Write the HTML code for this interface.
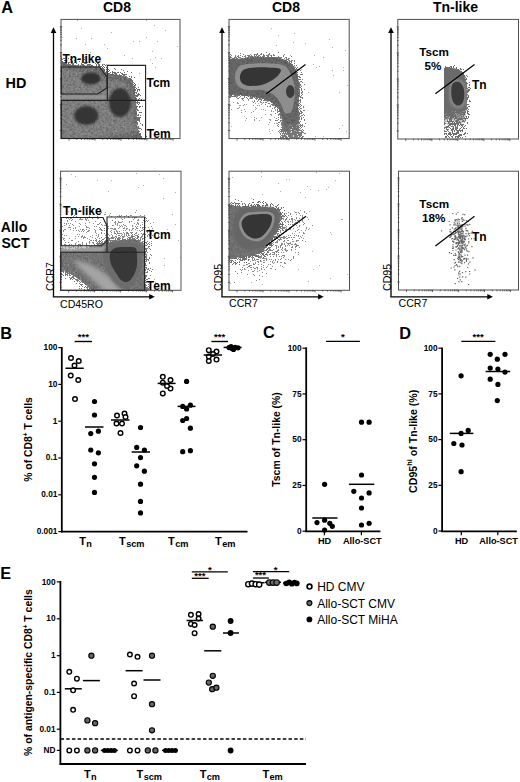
<!DOCTYPE html>
<html><head><meta charset="utf-8"><style>
html,body{margin:0;padding:0;background:#fff;width:520px;height:782px;overflow:hidden}
svg{display:block}
text{font-family:"Liberation Sans", sans-serif;fill:#000}
</style></head><body>
<svg width="520" height="782" viewBox="0 0 520 782">
<defs><filter id="g1" x="-40%" y="-40%" width="180%" height="180%" color-interpolation-filters="sRGB">
<feGaussianBlur in="SourceAlpha" stdDeviation="0.8" result="b"/>
<feTurbulence type="fractalNoise" baseFrequency="0.95" numOctaves="1" seed="7" result="n"/>
<feColorMatrix in="n" type="matrix" values="0 0 0 0 0 0 0 0 0 0 0 0 0 0 0 1 0 0 0 0" result="na"/>
<feComposite in="b" in2="na" operator="arithmetic" k1="0" k2="3" k3="2.2" k4="-2.3" result="m"/>
<feFlood flood-color="#767676"/>
<feComposite in2="m" operator="in"/>
</filter>
<filter id="g2" x="-40%" y="-40%" width="180%" height="180%" color-interpolation-filters="sRGB">
<feGaussianBlur in="SourceAlpha" stdDeviation="0.8" result="b"/>
<feTurbulence type="fractalNoise" baseFrequency="0.95" numOctaves="1" seed="17" result="n"/>
<feColorMatrix in="n" type="matrix" values="0 0 0 0 0 0 0 0 0 0 0 0 0 0 0 1 0 0 0 0" result="na"/>
<feComposite in="b" in2="na" operator="arithmetic" k1="0" k2="3" k3="2.2" k4="-2.3" result="m"/>
<feFlood flood-color="#6a6a6a"/>
<feComposite in2="m" operator="in"/>
</filter>
<filter id="mott" x="0" y="0" width="100%" height="100%" color-interpolation-filters="sRGB">
<feTurbulence type="fractalNoise" baseFrequency="0.45" numOctaves="2" seed="21" result="n"/>
<feColorMatrix in="n" type="matrix" values="0 0 0 0 0 0 0 0 0 0 0 0 0 0 0 3.2 0 0 0 -1.35" result="na"/>
<feFlood flood-color="#3a3a3a"/>
<feComposite in2="na" operator="in" result="dk"/>
<feComposite in="dk" in2="SourceAlpha" operator="in"/>
</filter>
<filter id="mottl" x="0" y="0" width="100%" height="100%" color-interpolation-filters="sRGB">
<feTurbulence type="fractalNoise" baseFrequency="0.5" numOctaves="2" seed="33" result="n"/>
<feColorMatrix in="n" type="matrix" values="0 0 0 0 0 0 0 0 0 0 0 0 0 0 0 3.2 0 0 0 -1.5" result="na"/>
<feFlood flood-color="#b0b0b0"/>
<feComposite in2="na" operator="in" result="dk"/>
<feComposite in="dk" in2="SourceAlpha" operator="in"/>
</filter>
<filter id="b05" x="-50%" y="-50%" width="200%" height="200%"><feGaussianBlur stdDeviation="0.5"/></filter>
<filter id="b04" x="-50%" y="-50%" width="200%" height="200%"><feGaussianBlur stdDeviation="0.4"/></filter>
<filter id="b1" x="-50%" y="-50%" width="200%" height="200%"><feGaussianBlur stdDeviation="1.0"/></filter>
<filter id="b2" x="-50%" y="-50%" width="200%" height="200%"><feGaussianBlur stdDeviation="2.0"/></filter>
<filter id="b3" x="-50%" y="-50%" width="200%" height="200%"><feGaussianBlur stdDeviation="3.0"/></filter><linearGradient id="gr2" gradientUnits="userSpaceOnUse" x1="0" y1="115" x2="0" y2="140"><stop offset="0" stop-color="#000"/><stop offset="1" stop-color="#000" stop-opacity="0.3"/></linearGradient><linearGradient id="gr3" gradientUnits="userSpaceOnUse" x1="0" y1="104" x2="0" y2="132"><stop offset="0" stop-color="#000"/><stop offset="1" stop-color="#000" stop-opacity="0.25"/></linearGradient><clipPath id="c1"><rect x="61" y="19" width="119.5" height="119.5"/></clipPath>
<clipPath id="c2"><rect x="229" y="19" width="121" height="119.5"/></clipPath>
<clipPath id="c3"><rect x="397.5" y="19" width="121" height="120"/></clipPath>
<clipPath id="c3b"><rect x="444" y="19" width="74" height="119.3"/></clipPath>
<clipPath id="c4"><rect x="60.5" y="170.8" width="120.5" height="120"/></clipPath>
<clipPath id="c5"><rect x="229" y="170.8" width="121" height="120"/></clipPath>
<clipPath id="c6"><rect x="398.5" y="170.8" width="120" height="120"/></clipPath></defs>
<text x="1.2" y="13.3" font-size="16.3" font-weight="bold" text-anchor="start" >A</text>
<text x="117" y="11.6" font-size="14" font-weight="bold" text-anchor="middle" >CD8</text>
<text x="286" y="12.2" font-size="14" font-weight="bold" text-anchor="middle" >CD8</text>
<text x="455.5" y="12" font-size="14" font-weight="bold" text-anchor="middle" >Tn-like</text>
<text x="5.6" y="87.8" font-size="14.4" font-weight="bold" text-anchor="start" >HD</text>
<text x="0.8" y="232" font-size="14" font-weight="bold" text-anchor="start" >Allo</text>
<text x="1.5" y="248" font-size="14" font-weight="bold" text-anchor="start" >SCT</text>
<g clip-path="url(#c1)">
<path d="M77 20h1M146 20h1M154 25h1M81 28h1M165 30h1M111 32h1M62 37h1M146 37h1M76 38h1M91 38h1M133 41h1M139 41h1M157 41h1M85 44h1M104 44h1M177 46h1M107 48h1M152 51h1M90 52h1M124 55h1M82 56h1M84 57h1M155 57h1M132 58h1M161 58h1M150 59h1M152 63h1M103 64h1M106 64h1M155 67h1M68 71h1M139 73h1M83 75h1" stroke="#b0b0b0" stroke-width="1" fill="none" transform="translate(0 0.5)" filter="url(#b04)"/>
<path d="M61 57h1M61 58h1M63 58h1M64 58h1M68 58h1M71 58h1M61 59h1M62 59h1M70 59h1M77 59h1M84 59h1M64 60h1M65 60h1M74 60h1M61 61h1M62 61h1M66 61h1M72 61h1M79 61h1M64 62h1M65 62h1M68 62h1M69 62h1M72 62h1M74 62h1M84 62h1M85 62h1M87 62h1M66 63h1M68 63h1M71 63h1M72 63h1M73 63h1M76 63h1M81 63h1M84 63h1M85 63h1M86 63h1M95 63h1M97 63h1M98 63h1M69 64h1M70 64h1M72 64h1M73 64h1M78 64h1M81 64h1M82 64h1M83 64h1M87 64h1M88 64h1M89 64h1M90 64h1M96 64h1M98 64h1M99 64h1M102 64h1M104 64h1M71 65h1M72 65h1M73 65h1M74 65h1M75 65h1M77 65h1M78 65h1M80 65h1M82 65h1M83 65h1M84 65h1M87 65h1M89 65h1M91 65h1M92 65h1M96 65h1M98 65h1M99 65h1M102 65h1M105 65h1M92 66h1M93 66h1M95 66h1M96 66h1M98 66h1M99 66h1M100 66h1M101 66h1M103 66h1M98 67h1M99 67h1M100 67h1M102 67h1M104 67h1M106 67h1M100 68h1M101 68h1M102 68h1M103 68h1M107 68h1M114 68h1M101 69h1M102 69h1M103 69h1M104 69h1M106 69h1M108 69h1M115 69h1M121 69h1M104 70h1M109 70h1M123 70h1M104 71h1M106 71h1M108 71h1M112 71h1M127 71h1M105 72h1M106 72h1M110 72h1M112 72h1M113 72h1M114 72h1M115 72h1M117 72h1M118 72h1M120 72h1M124 72h1M131 72h1M106 73h1M107 73h1M108 73h1M109 73h1M112 73h1M114 73h1M115 73h1M116 73h1M121 73h1M122 73h1M110 74h1M111 74h1M112 74h1M113 74h1M115 74h1M116 74h1M119 74h1M122 74h1M123 74h1M124 74h1M125 74h1M126 74h1M116 75h1M117 75h1M118 75h1M120 75h1M121 75h1M123 75h1M124 75h1M125 76h1M126 76h1M129 76h1M131 76h1M131 77h1M134 77h1M129 78h1M130 78h1M129 79h1M130 79h1M131 79h1M130 80h1M131 80h1M132 80h1M132 81h1M132 82h1M133 82h1M134 83h1M133 84h1M135 84h1M134 85h1M135 85h1M133 86h1M134 86h1M134 87h1M135 87h1M138 87h1M134 88h1M136 88h1M134 89h1M135 89h1M137 89h1M138 89h1M139 89h1M134 90h1M135 90h1M137 90h1M139 90h1M137 91h1M135 92h1M136 92h1M136 93h1M138 93h1M137 94h1M138 94h1M139 94h1M135 95h1M136 95h1M137 95h1M138 95h1M140 95h1M136 96h1M137 96h1M135 97h1M135 98h1M136 98h1M139 98h1M135 99h1M136 99h1M138 99h1M141 99h1M135 100h1M136 100h1M138 100h1M135 101h1M137 101h1M135 102h1M136 102h1M137 102h1M138 102h1M139 102h1M137 103h1M139 103h1M138 104h1M136 106h1M137 106h1M139 106h1M140 106h1M142 106h1M136 107h1M139 107h1M136 108h1M136 109h1M137 109h1M137 110h1M138 110h1M136 111h1M136 112h1M139 112h1M140 112h1M141 112h1M136 113h1M136 114h1M138 114h1M137 115h1M138 115h1M140 115h1M136 116h1M137 117h1M138 117h1M139 117h1M140 117h1M136 118h1M137 118h1M138 118h1M139 118h1M136 119h1M137 119h1M138 119h1M139 119h1M137 120h1M138 120h1M139 120h1M139 121h1M137 122h1M137 123h1M140 123h1M137 124h1M142 124h1M142 125h1M138 126h1M137 127h1M138 127h1M137 128h1M138 128h1M139 128h1M140 128h1M137 129h1M141 129h1M138 130h1M137 131h1M138 131h1M139 131h1M137 132h1M138 132h1M138 133h1M139 133h1M140 133h1M138 134h1M139 134h1M140 134h1M139 135h1M140 135h1M140 136h1M141 136h1M145 136h1M146 136h1M141 137h1M145 137h1" stroke="#6c6c6c" stroke-width="1" fill="none" transform="translate(0 0.5)" filter="url(#b04)"/>
<path d="M50.0 66.5C54.2 52.4 67.5 65.6 75.0 65.5C82.5 65.4 90.5 65.4 95.0 66.0C99.5 66.6 100.0 67.8 102.0 69.0C104.0 70.2 105.0 72.1 107.0 73.0C109.0 73.9 111.2 74.0 114.0 74.5C116.8 75.0 121.2 75.1 124.0 76.0C126.8 76.9 129.2 78.0 131.0 80.0C132.8 82.0 133.7 84.7 134.5 88.0C135.3 91.3 135.6 95.5 136.0 100.0C136.4 104.5 136.8 110.0 137.0 115.0C137.2 120.0 137.3 124.2 137.5 130.0C137.7 135.8 152.6 146.7 138.0 150.0C123.4 153.3 64.7 163.9 50.0 150.0C35.3 136.1 45.8 80.6 50.0 66.5Z" fill="#000" filter="url(#g2)" />
<path d="M50.0 71.0C54.2 60.3 67.8 70.1 75.0 70.0C82.2 69.9 88.8 69.8 93.0 70.5C97.2 71.2 98.2 72.6 100.0 74.0C101.8 75.4 102.0 78.0 104.0 79.0C106.0 80.0 109.0 79.7 112.0 80.0C115.0 80.3 119.3 80.2 122.0 81.0C124.7 81.8 126.5 83.0 128.0 85.0C129.5 87.0 130.2 89.5 131.0 93.0C131.8 96.5 132.2 101.5 132.5 106.0C132.8 110.5 133.1 115.5 133.0 120.0C132.9 124.5 145.8 130.7 132.0 133.0C118.2 135.3 63.7 144.3 50.0 134.0C36.3 123.7 45.8 81.7 50.0 71.0Z" fill="#8a8a8a" filter="url(#b2)" opacity="0.8"/>
<path d="M50.0 66.5C54.2 52.4 67.5 65.6 75.0 65.5C82.5 65.4 90.5 65.4 95.0 66.0C99.5 66.6 100.0 67.8 102.0 69.0C104.0 70.2 105.0 72.1 107.0 73.0C109.0 73.9 111.2 74.0 114.0 74.5C116.8 75.0 121.2 75.1 124.0 76.0C126.8 76.9 129.2 78.0 131.0 80.0C132.8 82.0 133.7 84.7 134.5 88.0C135.3 91.3 135.6 95.5 136.0 100.0C136.4 104.5 136.8 110.0 137.0 115.0C137.2 120.0 137.3 124.2 137.5 130.0C137.7 135.8 152.6 146.7 138.0 150.0C123.4 153.3 64.7 163.9 50.0 150.0C35.3 136.1 45.8 80.6 50.0 66.5Z" fill="#000" filter="url(#mott)" opacity="0.4"/>
<path d="M50.0 66.5C54.2 52.4 67.5 65.6 75.0 65.5C82.5 65.4 90.5 65.4 95.0 66.0C99.5 66.6 100.0 67.8 102.0 69.0C104.0 70.2 105.0 72.1 107.0 73.0C109.0 73.9 111.2 74.0 114.0 74.5C116.8 75.0 121.2 75.1 124.0 76.0C126.8 76.9 129.2 78.0 131.0 80.0C132.8 82.0 133.7 84.7 134.5 88.0C135.3 91.3 135.6 95.5 136.0 100.0C136.4 104.5 136.8 110.0 137.0 115.0C137.2 120.0 137.3 124.2 137.5 130.0C137.7 135.8 152.6 146.7 138.0 150.0C123.4 153.3 64.7 163.9 50.0 150.0C35.3 136.1 45.8 80.6 50.0 66.5Z" fill="#000" filter="url(#mottl)" opacity="0.35"/>
<rect x="56" y="95" width="51" height="4.5" fill="#999" filter="url(#b1)" opacity="0.8"/>
<ellipse cx="90.8" cy="78.4" rx="9.8" ry="6.2" fill="#333" filter="url(#b1)" />
<ellipse cx="120" cy="102.5" rx="11" ry="14.5" fill="#363636" filter="url(#b1)" />
<ellipse cx="86.3" cy="115.5" rx="12" ry="9.5" fill="#343434" filter="url(#b1)" />
</g>
<g clip-path="url(#c2)">
<path d="M271 28h1M294 33h1M278 35h1M329 39h1M293 42h1M305 43h1M276 45h1M332 47h1M345 50h1M290 55h1M314 55h1M234 57h1M281 57h1M323 57h1M266 58h1M266 64h1M313 64h1M264 66h1M319 66h1M316 67h1M343 67h1M301 69h1M332 70h1M343 70h1M263 71h1M268 72h1M333 75h1M273 80h1M349 80h1M251 81h1M261 84h1M347 85h1M233 89h1M280 92h1M308 92h1M339 92h1M277 98h1M272 99h1M229 101h1M258 103h1M271 114h1M244 116h1M245 120h1M342 125h1M231 126h1M339 128h1M269 129h1M272 130h1M269 131h1M346 131h1M295 132h1M270 133h1M282 134h1M295 135h1M315 136h1M323 136h1" stroke="#b0b0b0" stroke-width="1" fill="none" transform="translate(0 0.5)" filter="url(#b04)"/>
<path d="M236 94h1M236 96h1M239 97h1M241 98h1M249 98h1M248 100h1M254 100h1M258 100h1M252 101h1M233 102h1M237 102h1M260 102h1M237 103h1M238 103h1M255 103h1M262 103h1M244 104h1M246 104h1M261 104h1M230 105h1M239 105h1M240 105h1M243 105h1M253 105h1M257 105h1M259 105h1M270 105h1M269 106h1M239 107h1M255 107h1M237 108h1M238 108h1M256 108h1M274 108h1M231 109h1M244 109h1M255 109h1M261 109h1M263 109h1M275 109h1M241 110h1M265 110h1M271 110h1M275 110h1M245 111h1M253 111h1M271 111h1M273 111h1M277 111h1M241 112h1M251 112h1M265 114h1M270 114h1M279 114h1M271 115h1M254 117h1M261 117h1M274 117h1M246 118h1M256 118h1M283 118h1M254 119h1M269 119h1M270 119h1M254 120h1M259 120h1M270 120h1M276 120h1M280 121h1M269 122h1M274 123h1M276 123h1M277 123h1M268 124h1M281 125h1M281 132h1" stroke="#999" stroke-width="1" fill="none" transform="translate(0 0.5)" filter="url(#b04)"/>
<path d="M266 52h1M278 52h1M240 53h1M257 53h1M261 53h1M269 53h1M230 54h1M243 54h1M250 54h1M254 54h1M255 54h1M256 54h1M257 54h1M260 54h1M261 54h1M263 54h1M268 54h1M269 54h1M273 54h1M284 54h1M231 55h1M235 55h1M238 55h1M240 55h1M245 55h1M247 55h1M248 55h1M249 55h1M251 55h1M254 55h1M256 55h1M258 55h1M259 55h1M263 55h1M264 55h1M266 55h1M267 55h1M268 55h1M270 55h1M271 55h1M273 55h1M274 55h1M283 55h1M230 56h1M235 56h1M237 56h1M238 56h1M242 56h1M244 56h1M245 56h1M248 56h1M249 56h1M250 56h1M251 56h1M252 56h1M254 56h1M255 56h1M257 56h1M258 56h1M260 56h1M262 56h1M263 56h1M264 56h1M267 56h1M268 56h1M271 56h1M278 56h1M283 56h1M291 56h1M229 57h1M230 57h1M231 57h1M234 57h1M235 57h1M236 57h1M238 57h1M239 57h1M240 57h1M245 57h1M247 57h1M248 57h1M250 57h1M251 57h1M265 57h1M266 57h1M267 57h1M268 57h1M269 57h1M270 57h1M271 57h1M272 57h1M273 57h1M274 57h1M275 57h1M276 57h1M277 57h1M278 57h1M279 57h1M280 57h1M281 57h1M285 57h1M286 57h1M229 58h1M232 58h1M233 58h1M234 58h1M236 58h1M237 58h1M241 58h1M242 58h1M244 58h1M278 58h1M279 58h1M280 58h1M284 58h1M286 58h1M288 58h1M289 58h1M286 59h1M287 59h1M288 59h1M285 60h1M286 60h1M288 60h1M289 60h1M291 60h1M292 60h1M294 60h1M287 61h1M289 61h1M290 61h1M291 61h1M294 61h1M289 62h1M291 62h1M290 63h1M294 63h1M291 64h1M292 64h1M294 65h1M296 65h1M293 66h1M295 67h1M297 67h1M296 68h1M295 69h1M296 69h1M297 69h1M295 70h1M300 70h1M297 72h1M301 72h1M296 73h1M297 74h1M300 74h1M301 74h1M302 74h1M297 75h1M297 76h1M298 76h1M299 76h1M299 77h1M300 77h1M298 79h1M299 79h1M300 79h1M302 79h1M300 81h1M301 81h1M298 82h1M299 82h1M302 82h1M299 83h1M299 84h1M300 84h1M304 84h1M299 85h1M300 85h1M299 86h1M301 86h1M299 87h1M300 87h1M301 88h1M299 89h1M301 89h1M304 89h1M299 90h1M301 90h1M299 91h1M302 91h1M299 92h1M301 92h1M302 92h1M299 93h1M301 93h1M234 94h1M235 94h1M236 94h1M237 94h1M238 94h1M239 94h1M299 94h1M302 94h1M230 95h1M231 95h1M234 95h1M235 95h1M236 95h1M237 95h1M238 95h1M239 95h1M241 95h1M242 95h1M243 95h1M244 95h1M245 95h1M246 95h1M247 95h1M299 95h1M301 95h1M230 96h1M231 96h1M232 96h1M233 96h1M234 96h1M235 96h1M237 96h1M240 96h1M244 96h1M248 96h1M252 96h1M253 96h1M298 96h1M299 96h1M300 96h1M229 97h1M230 97h1M236 97h1M244 97h1M246 97h1M250 97h1M251 97h1M252 97h1M254 97h1M256 97h1M257 97h1M258 97h1M298 97h1M300 97h1M301 97h1M302 97h1M237 98h1M238 98h1M242 98h1M243 98h1M247 98h1M250 98h1M251 98h1M252 98h1M255 98h1M256 98h1M257 98h1M259 98h1M260 98h1M262 98h1M302 98h1M242 99h1M248 99h1M256 99h1M258 99h1M259 99h1M260 99h1M261 99h1M264 99h1M266 99h1M300 99h1M243 100h1M261 100h1M263 100h1M264 100h1M265 100h1M266 100h1M267 100h1M268 100h1M298 100h1M299 100h1M300 100h1M254 101h1M257 101h1M260 101h1M267 101h1M298 101h1M300 101h1M253 102h1M261 102h1M263 102h1M265 102h1M266 102h1M271 102h1M272 102h1M300 102h1M268 103h1M269 103h1M273 103h1M299 103h1M265 104h1M271 104h1M272 104h1M273 104h1M274 104h1M298 104h1M300 104h1M272 105h1M273 105h1M274 105h1M275 105h1M276 105h1M298 105h1M299 105h1M301 105h1M267 106h1M270 106h1M275 106h1M276 106h1M300 106h1M303 106h1M274 107h1M275 107h1M277 107h1M299 107h1M303 107h1M272 108h1M278 108h1M298 108h1M300 108h1M301 108h1M277 109h1M299 109h1M277 110h1M279 110h1M297 110h1M298 110h1M300 110h1M303 110h1M304 110h1M278 111h1M279 111h1M297 111h1M298 111h1M300 111h1M301 111h1M277 112h1M280 112h1M297 112h1M298 112h1M299 112h1M301 112h1M302 112h1M275 113h1M279 113h1M280 113h1M297 113h1M298 113h1M299 113h1M300 113h1M301 113h1M278 114h1M279 114h1M280 114h1M281 114h1M297 114h1M298 114h1M299 114h1M303 114h1M278 115h1M280 115h1M281 115h1M282 115h1M297 115h1M301 115h1M302 115h1M304 115h1M280 116h1M282 116h1M296 116h1M297 116h1M298 116h1M300 116h1M278 117h1M280 117h1M281 117h1M282 117h1M283 117h1M296 117h1M297 117h1M299 117h1M301 117h1M303 117h1M276 118h1M280 118h1M282 118h1M283 118h1M296 118h1M297 118h1M298 118h1M299 118h1M301 118h1M278 119h1M282 119h1M283 119h1M284 119h1M297 119h1M299 119h1M301 119h1M304 119h1M275 120h1M277 120h1M280 120h1M281 120h1M282 120h1M283 120h1M285 120h1M295 120h1M296 120h1M297 120h1M304 120h1M280 121h1M282 121h1M283 121h1M284 121h1M285 121h1M295 121h1M296 121h1M298 121h1M300 121h1M278 122h1M279 122h1M281 122h1M282 122h1M283 122h1M284 122h1M285 122h1M286 122h1M293 122h1M295 122h1M296 122h1M297 122h1M298 122h1M299 122h1M281 123h1M282 123h1M283 123h1M284 123h1M286 123h1M287 123h1M291 123h1M292 123h1M293 123h1M294 123h1M295 123h1M296 123h1M297 123h1M298 123h1M299 123h1M305 123h1M278 124h1M281 124h1M282 124h1M283 124h1M284 124h1M285 124h1M286 124h1M287 124h1M288 124h1M291 124h1M292 124h1M293 124h1M294 124h1M295 124h1M296 124h1M300 124h1M302 124h1M277 125h1M282 125h1M283 125h1M284 125h1M285 125h1M286 125h1M287 125h1M288 125h1M289 125h1M292 125h1M293 125h1M294 125h1M295 125h1M297 125h1M299 125h1M300 125h1M301 125h1M302 125h1M278 126h1M282 126h1M283 126h1M284 126h1M285 126h1M286 126h1M287 126h1M289 126h1M290 126h1M292 126h1M293 126h1M295 126h1M296 126h1M297 126h1M298 126h1M300 126h1M302 126h1M304 126h1M281 127h1M282 127h1M283 127h1M284 127h1M285 127h1M286 127h1M287 127h1M288 127h1M289 127h1M290 127h1M291 127h1M293 127h1M294 127h1M295 127h1M297 127h1M298 127h1M299 127h1M301 127h1M282 128h1M283 128h1M284 128h1M285 128h1M286 128h1M287 128h1M288 128h1M290 128h1M291 128h1M292 128h1M293 128h1M294 128h1M295 128h1M296 128h1M297 128h1M298 128h1M300 128h1M280 129h1M281 129h1M282 129h1M283 129h1M284 129h1M285 129h1M286 129h1M287 129h1M288 129h1M289 129h1M292 129h1M293 129h1M294 129h1M295 129h1M296 129h1M297 129h1M298 129h1M299 129h1M302 129h1M279 130h1M281 130h1M282 130h1M283 130h1M284 130h1M285 130h1M286 130h1M287 130h1M288 130h1M289 130h1M290 130h1M291 130h1M292 130h1M293 130h1M296 130h1M297 130h1M298 130h1M299 130h1M300 130h1M301 130h1M303 130h1M278 131h1M280 131h1M281 131h1M282 131h1M283 131h1M284 131h1M285 131h1M286 131h1M287 131h1M288 131h1M289 131h1M290 131h1M292 131h1M293 131h1M294 131h1M295 131h1M297 131h1M301 131h1M302 131h1M279 132h1M283 132h1M285 132h1M287 132h1M288 132h1M289 132h1M292 132h1M293 132h1M294 132h1M295 132h1M296 132h1M297 132h1M298 132h1M299 132h1M300 132h1M301 132h1M302 132h1M303 132h1M280 133h1M282 133h1M283 133h1M284 133h1M285 133h1M286 133h1M287 133h1M288 133h1M289 133h1M290 133h1M291 133h1M292 133h1M293 133h1M294 133h1M295 133h1M296 133h1M297 133h1M298 133h1M299 133h1M300 133h1M301 133h1M304 133h1M305 133h1M280 134h1M284 134h1M286 134h1M287 134h1M288 134h1M289 134h1M290 134h1M291 134h1M292 134h1M293 134h1M294 134h1M295 134h1M296 134h1M298 134h1M299 134h1M300 134h1M301 134h1M281 135h1M282 135h1M283 135h1M284 135h1M285 135h1M288 135h1M289 135h1M290 135h1M291 135h1M292 135h1M294 135h1M295 135h1M296 135h1M297 135h1M298 135h1M299 135h1M300 135h1M301 135h1M280 136h1M282 136h1M283 136h1M284 136h1M285 136h1M286 136h1M288 136h1M289 136h1M290 136h1M291 136h1M292 136h1M294 136h1M295 136h1M296 136h1M297 136h1M299 136h1M300 136h1M302 136h1M303 136h1M280 137h1M281 137h1M282 137h1M283 137h1M285 137h1M286 137h1M287 137h1M289 137h1M290 137h1M291 137h1M292 137h1M293 137h1M294 137h1M295 137h1M296 137h1M297 137h1M298 137h1M299 137h1M301 137h1M302 137h1" stroke="#7a7a7a" stroke-width="1" fill="none" transform="translate(0 0.5)" filter="url(#b04)"/>
<path d="M281.0 112.0C283.5 109.5 294.9 107.8 298.0 110.0C301.1 112.2 299.3 119.2 299.5 125.0C299.7 130.8 301.6 141.7 299.0 145.0C296.4 148.3 286.7 148.3 284.0 145.0C281.3 141.7 283.5 130.5 283.0 125.0C282.5 119.5 278.5 114.5 281.0 112.0Z" fill="url(#gr2)" filter="url(#g2)" />
<path d="M220.0 62.0C223.3 56.1 234.2 59.4 240.0 58.5C245.8 57.6 250.3 56.8 255.0 56.5C259.7 56.2 263.5 56.7 268.0 57.0C272.5 57.3 278.0 57.3 282.0 58.5C286.0 59.7 289.5 61.6 292.0 64.0C294.5 66.4 295.8 69.3 297.0 73.0C298.2 76.7 299.2 81.5 299.5 86.0C299.8 90.5 299.2 95.7 299.0 100.0C298.8 104.3 298.7 108.3 298.0 112.0C297.3 115.7 296.7 120.0 295.0 122.0C293.3 124.0 290.2 125.0 288.0 124.0C285.8 123.0 284.0 119.0 282.0 116.0C280.0 113.0 278.7 108.7 276.0 106.0C273.3 103.3 270.0 101.5 266.0 100.0C262.0 98.5 256.7 97.8 252.0 97.0C247.3 96.2 243.3 95.5 238.0 95.0C232.7 94.5 223.0 99.5 220.0 94.0C217.0 88.5 216.7 67.9 220.0 62.0Z" fill="#000" filter="url(#g2)" />
<path d="M220.0 62.0C223.3 56.1 234.2 59.4 240.0 58.5C245.8 57.6 250.3 56.8 255.0 56.5C259.7 56.2 263.5 56.7 268.0 57.0C272.5 57.3 278.0 57.3 282.0 58.5C286.0 59.7 289.5 61.6 292.0 64.0C294.5 66.4 295.8 69.3 297.0 73.0C298.2 76.7 299.2 81.5 299.5 86.0C299.8 90.5 299.2 95.7 299.0 100.0C298.8 104.3 298.7 108.3 298.0 112.0C297.3 115.7 296.7 120.0 295.0 122.0C293.3 124.0 290.2 125.0 288.0 124.0C285.8 123.0 284.0 119.0 282.0 116.0C280.0 113.0 278.7 108.7 276.0 106.0C273.3 103.3 270.0 101.5 266.0 100.0C262.0 98.5 256.7 97.8 252.0 97.0C247.3 96.2 243.3 95.5 238.0 95.0C232.7 94.5 223.0 99.5 220.0 94.0C217.0 88.5 216.7 67.9 220.0 62.0Z" fill="#000" filter="url(#mott)" opacity="0.35"/>
<path d="M235.0 76.0C235.3 72.7 236.7 68.1 240.0 66.0C243.3 63.9 250.0 63.9 255.0 63.5C260.0 63.1 265.3 63.2 270.0 63.5C274.7 63.8 279.9 63.9 283.0 65.0C286.1 66.1 286.8 67.5 288.5 70.0C290.2 72.5 291.9 76.7 293.0 80.0C294.1 83.3 294.8 86.3 295.0 90.0C295.2 93.7 294.7 98.3 294.0 102.0C293.3 105.7 292.5 110.2 291.0 112.0C289.5 113.8 286.7 114.3 285.0 113.0C283.3 111.7 282.8 107.0 281.0 104.0C279.2 101.0 277.2 97.3 274.0 95.0C270.8 92.7 266.3 90.8 262.0 90.0C257.7 89.2 252.0 90.7 248.0 90.0C244.0 89.3 240.2 88.3 238.0 86.0C235.8 83.7 234.7 79.3 235.0 76.0Z" fill="#8e8e8e" filter="url(#b05)" />
<path d="M240.0 76.0C240.3 73.8 241.5 70.9 244.0 69.5C246.5 68.1 251.0 67.8 255.0 67.5C259.0 67.2 264.0 67.3 268.0 67.5C272.0 67.7 276.9 67.8 279.0 68.5C281.1 69.2 281.3 70.2 280.5 72.0C279.7 73.8 276.9 76.9 274.0 79.0C271.1 81.1 267.0 83.3 263.0 84.5C259.0 85.7 253.5 86.2 250.0 86.0C246.5 85.8 243.7 84.7 242.0 83.0C240.3 81.3 239.7 78.2 240.0 76.0Z" fill="#363636" filter="url(#b05)" />
<ellipse cx="290.3" cy="91.5" rx="4.3" ry="6.5" fill="#3a3a3a" filter="url(#b05)" />
</g>
<g clip-path="url(#c3b)">
<path d="M442 65h1M454 65h1M439 66h1M440 66h1M441 66h1M442 66h1M445 66h1M450 66h1M451 66h1M453 66h1M438 67h1M443 67h1M445 67h1M446 67h1M447 67h1M448 67h1M449 67h1M451 67h1M453 67h1M456 67h1M440 68h1M456 68h1M460 68h1M456 69h1M458 69h1M460 69h1M461 69h1M463 69h1M458 70h1M459 70h1M437 71h1M438 71h1M439 71h1M440 71h1M460 71h1M461 71h1M437 72h1M438 72h1M440 72h1M461 72h1M462 72h1M439 73h1M440 73h1M463 73h1M439 74h1M463 74h1M439 75h1M440 75h1M464 75h1M466 75h1M441 76h1M464 76h1M467 76h1M441 77h1M465 77h1M466 78h1M441 79h1M465 79h1M466 79h1M440 81h1M438 82h1M441 82h1M442 82h1M466 82h1M469 82h1M466 83h1M467 83h1M442 84h1M469 84h1M442 85h1M466 85h1M469 85h1M441 86h1M442 86h1M466 86h1M442 87h1M443 87h1M468 87h1M469 87h1M442 88h1M443 88h1M467 88h1M470 88h1M442 89h1M468 89h1M469 89h1M443 90h1M468 90h1M469 90h1M444 91h1M467 91h1M468 91h1M443 92h1M467 92h1M444 93h1M441 94h1M444 94h1M467 94h1M444 95h1M468 95h1M445 96h1M468 96h1M443 97h1M445 97h1M467 97h1M468 97h1M467 98h1M467 99h1M446 100h1M469 100h1M446 101h1M466 101h1M469 101h1M470 101h1M446 102h1M466 102h1M446 103h1M444 104h1M447 104h1M467 104h1M468 104h1M446 105h1M447 105h1M466 105h1M468 106h1M469 106h1M446 107h1M447 107h1M467 107h1M446 108h1M447 108h1M448 108h1M466 108h1M467 108h1M449 109h1M466 109h1M449 110h1M467 110h1M449 111h1M450 111h1M467 111h1M448 112h1M449 112h1M450 112h1M467 112h1M450 113h1M451 113h1M467 113h1M468 113h1M452 114h1M468 114h1M469 114h1M451 115h1M452 115h1M453 115h1M453 116h1M454 116h1M455 116h1M466 116h1M451 117h1M452 117h1M455 117h1M456 117h1M466 117h1M468 117h1M454 118h1M455 118h1M459 118h1M460 118h1M461 118h1M463 118h1M465 118h1M466 118h1M460 119h1M465 119h1" stroke="#6a6a6a" stroke-width="1" fill="none" transform="translate(0 0.5)" filter="url(#b04)"/>
<path d="M444 101h1M443 102h1M444 102h1M441 103h1M444 103h1M440 104h1M446 104h1M442 105h1M446 105h1M447 105h1M466 105h1M438 106h1M446 106h1M440 107h1M443 107h1M444 107h1M447 107h1M448 107h1M439 108h1M442 108h1M443 108h1M444 108h1M448 108h1M467 108h1M445 109h1M446 109h1M447 109h1M449 109h1M468 109h1M437 110h1M438 110h1M444 110h1M445 110h1M446 110h1M449 110h1M438 111h1M440 111h1M443 111h1M444 111h1M445 111h1M447 111h1M448 111h1M449 111h1M468 111h1M439 112h1M442 112h1M443 112h1M444 112h1M445 112h1M447 112h1M439 113h1M441 113h1M442 113h1M444 113h1M445 113h1M447 113h1M451 113h1M440 114h1M442 114h1M443 114h1M447 114h1M448 114h1M449 114h1M450 114h1M451 114h1M452 114h1M436 115h1M443 115h1M445 115h1M446 115h1M447 115h1M448 115h1M449 115h1M451 115h1M438 116h1M439 116h1M440 116h1M441 116h1M443 116h1M444 116h1M448 116h1M452 116h1M453 116h1M454 116h1M466 116h1M468 116h1M436 117h1M439 117h1M440 117h1M441 117h1M442 117h1M443 117h1M445 117h1M446 117h1M447 117h1M450 117h1M451 117h1M452 117h1M453 117h1M456 117h1M466 117h1M437 118h1M439 118h1M443 118h1M446 118h1M449 118h1M450 118h1M451 118h1M454 118h1M456 118h1M458 118h1M459 118h1M464 118h1M465 118h1M466 118h1M467 118h1M442 119h1M443 119h1M444 119h1M449 119h1M450 119h1M451 119h1M454 119h1M457 119h1M458 119h1M459 119h1M461 119h1M462 119h1M439 120h1M447 120h1M449 120h1M451 120h1M456 120h1M457 120h1M458 120h1M463 120h1M465 120h1M442 121h1M447 121h1M448 121h1M449 121h1M450 121h1M451 121h1M452 121h1M453 121h1M455 121h1M456 121h1M457 121h1M459 121h1M462 121h1M463 121h1M464 121h1M441 122h1M442 122h1M444 122h1M448 122h1M452 122h1M454 122h1M456 122h1M457 122h1M458 122h1M459 122h1M460 122h1M467 122h1M437 123h1M439 123h1M441 123h1M442 123h1M443 123h1M444 123h1M445 123h1M448 123h1M449 123h1M450 123h1M451 123h1M452 123h1M453 123h1M454 123h1M455 123h1M456 123h1M457 123h1M458 123h1M460 123h1M467 123h1M443 124h1M444 124h1M449 124h1M450 124h1M451 124h1M452 124h1M453 124h1M454 124h1M455 124h1M457 124h1M458 124h1M460 124h1M461 124h1M462 124h1M463 124h1M438 125h1M440 125h1M441 125h1M448 125h1M449 125h1M450 125h1M454 125h1M455 125h1M457 125h1M459 125h1M461 125h1M462 125h1M465 125h1M442 126h1M446 126h1M447 126h1M448 126h1M451 126h1M452 126h1M453 126h1M455 126h1M457 126h1M462 126h1M464 126h1M437 127h1M440 127h1M443 127h1M444 127h1M445 127h1M446 127h1M447 127h1M449 127h1M453 127h1M455 127h1M456 127h1M457 127h1M461 127h1M463 127h1M440 128h1M441 128h1M442 128h1M444 128h1M446 128h1M450 128h1M452 128h1M453 128h1M455 128h1M456 128h1M457 128h1M460 128h1M463 128h1M464 128h1M466 128h1M441 129h1M443 129h1M446 129h1M447 129h1M448 129h1M451 129h1M452 129h1M453 129h1M455 129h1M456 129h1M459 129h1M462 129h1M441 130h1M443 130h1M444 130h1M447 130h1M451 130h1M452 130h1M454 130h1M456 130h1M457 130h1M458 130h1M459 130h1M460 130h1M461 130h1M462 130h1M444 131h1M445 131h1M446 131h1M448 131h1M452 131h1M454 131h1M457 131h1M458 131h1M460 131h1M462 131h1M440 132h1M442 132h1M449 132h1M450 132h1M452 132h1M456 132h1M457 132h1M458 132h1M465 132h1M444 133h1M445 133h1M446 133h1M448 133h1M449 133h1M450 133h1M452 133h1M453 133h1M454 133h1M455 133h1M456 133h1M457 133h1M458 133h1M464 133h1M465 133h1M467 133h1M441 134h1M443 134h1M444 134h1M446 134h1M448 134h1M449 134h1M450 134h1M451 134h1M453 134h1M454 134h1M455 134h1M456 134h1M459 134h1M460 134h1M461 134h1M463 134h1M464 134h1M443 135h1M447 135h1M450 135h1M453 135h1M458 135h1M459 135h1M460 135h1M461 135h1M445 136h1M446 136h1M448 136h1M451 136h1M452 136h1M455 136h1M456 136h1M457 136h1M458 136h1M459 136h1M465 136h1M445 137h1M446 137h1M449 137h1M452 137h1M455 137h1M457 137h1M458 137h1M460 137h1M462 137h1M448 138h1M452 138h1M456 138h1M459 138h1" stroke="#707070" stroke-width="1" fill="none" transform="translate(0 0.5)" filter="url(#b04)"/>
<path d="M440.0 70.0C441.0 67.1 444.0 67.9 446.0 67.5C448.0 67.1 449.8 67.1 452.0 67.5C454.2 67.9 456.8 68.6 459.0 70.0C461.2 71.4 463.6 72.7 465.0 76.0C466.4 79.3 467.2 85.2 467.5 90.0C467.8 94.8 467.2 100.3 467.0 105.0C466.8 109.7 466.5 113.8 466.0 118.0C465.5 122.2 465.7 127.5 464.0 130.0C462.3 132.5 459.0 133.0 456.0 133.0C453.0 133.0 448.7 133.0 446.0 130.0C443.3 127.0 441.0 122.5 440.0 115.0C439.0 107.5 440.0 92.5 440.0 85.0C440.0 77.5 439.0 72.9 440.0 70.0Z" fill="url(#gr3)" filter="url(#g2)" />
<path d="M449.3 89.0C449.6 85.2 450.4 82.1 452.0 80.5C453.6 78.9 456.8 78.9 459.0 79.5C461.2 80.1 463.8 81.4 465.0 84.0C466.2 86.6 466.4 91.4 466.3 95.0C466.2 98.6 466.1 103.2 464.5 105.5C462.9 107.8 459.4 108.9 457.0 108.5C454.6 108.1 451.6 106.2 450.3 103.0C449.0 99.8 449.0 92.8 449.3 89.0Z" fill="#858585" filter="url(#b1)" />
<path d="M451.3 89.0C451.5 86.2 452.2 84.2 453.5 83.0C454.8 81.8 457.4 81.4 459.0 82.0C460.6 82.6 462.1 84.3 463.0 86.5C463.9 88.7 464.4 92.2 464.3 95.0C464.2 97.8 463.7 101.2 462.5 103.0C461.3 104.8 458.7 106.0 457.0 105.5C455.3 105.0 453.2 102.8 452.3 100.0C451.4 97.2 451.1 91.8 451.3 89.0Z" fill="#3a3a3a" filter="url(#b05)" />
</g>
<g clip-path="url(#c4)">
<path d="M171 171h1M136 173h1M71 174h1M159 174h1M75 176h1M163 178h1M97 180h1M111 180h1M66 184h1M143 185h1M138 187h1M108 191h1M175 192h1M163 198h1M79 208h1M68 211h1M172 214h1M137 223h1M175 224h1M88 227h1M167 229h1M137 230h1M92 235h1M168 235h1M147 236h1M106 237h1M155 238h1M128 239h1M178 240h1M76 242h1M80 245h1M78 249h1M129 251h1M70 252h1M65 257h1M180 257h1M84 258h1M164 258h1M65 259h1M89 261h1M103 264h1M69 265h1M164 265h1M77 271h1M65 272h1M145 272h1M154 279h1M155 282h1M162 284h1M163 285h1M61 287h1M75 290h1" stroke="#b0b0b0" stroke-width="1" fill="none" transform="translate(0 0.5)" filter="url(#b04)"/>
<path d="M136 210h1M91 212h1M101 212h1M105 212h1M135 212h1M72 213h1M76 213h1M110 213h1M104 214h1M105 214h1M71 215h1M74 215h1M109 215h1M119 215h1M121 215h1M130 215h1M131 215h1M140 215h1M144 215h1M73 216h1M76 216h1M89 216h1M97 216h1M111 216h1M117 216h1M119 216h1M120 216h1M124 216h1M128 216h1M75 217h1M76 217h1M96 217h1M99 217h1M128 217h1M132 217h1M134 217h1M135 217h1M136 217h1M145 217h1M66 218h1M68 218h1M70 218h1M71 218h1M80 218h1M85 218h1M87 218h1M92 218h1M97 218h1M98 218h1M115 218h1M121 218h1M124 218h1M134 218h1M146 218h1M61 219h1M69 219h1M72 219h1M79 219h1M80 219h1M81 219h1M82 219h1M85 219h1M86 219h1M103 219h1M122 219h1M133 219h1M138 219h1M67 220h1M71 220h1M86 220h1M88 220h1M112 220h1M137 220h1M138 220h1M143 220h1M148 220h1M67 221h1M75 221h1M95 221h1M104 221h1M115 221h1M118 221h1M129 221h1M131 221h1M145 221h1M147 221h1M89 222h1M114 222h1M115 222h1M120 222h1M121 222h1M129 222h1M137 222h1M142 222h1M153 222h1M64 223h1M66 223h1M68 223h1M70 223h1M79 223h1M85 223h1M93 223h1M99 223h1M107 223h1M134 223h1M150 223h1M66 224h1M72 224h1M80 224h1M97 224h1M98 224h1M101 224h1M107 224h1M115 224h1M123 224h1M138 224h1M142 224h1M64 225h1M69 225h1M73 225h1M85 225h1M102 225h1M104 225h1M105 225h1M117 225h1M121 225h1M125 225h1M140 225h1M62 226h1M79 226h1M86 226h1M94 226h1M96 226h1M107 226h1M108 226h1M120 226h1M122 226h1M126 226h1M132 226h1M135 226h1M137 226h1M144 226h1M68 227h1M69 227h1M70 227h1M75 227h1M86 227h1M87 227h1M99 227h1M107 227h1M119 227h1M124 227h1M140 227h1M142 227h1M143 227h1M145 227h1M148 227h1M73 228h1M75 228h1M89 228h1M108 228h1M110 228h1M111 228h1M114 228h1M118 228h1M123 228h1M127 228h1M152 228h1M64 229h1M65 229h1M70 229h1M80 229h1M82 229h1M83 229h1M86 229h1M94 229h1M99 229h1M100 229h1M107 229h1M129 229h1M132 229h1M149 229h1M63 230h1M73 230h1M76 230h1M78 230h1M82 230h1M84 230h1M88 230h1M89 230h1M95 230h1M101 230h1M102 230h1M104 230h1M106 230h1M111 230h1M116 230h1M125 230h1M129 230h1M131 230h1M142 230h1M146 230h1M63 231h1M79 231h1M81 231h1M83 231h1M87 231h1M88 231h1M95 231h1M116 231h1M117 231h1M140 231h1M146 231h1M61 232h1M86 232h1M95 232h1M101 232h1M106 232h1M126 232h1M132 232h1M150 232h1M104 233h1M115 233h1M117 233h1M119 233h1M120 233h1M121 233h1M124 233h1M127 233h1M151 233h1M62 234h1M77 234h1M79 234h1M98 234h1M108 234h1M124 234h1M126 234h1M148 234h1M64 235h1M66 235h1M82 235h1M96 235h1M98 235h1M105 235h1M119 235h1M121 235h1M124 235h1M126 235h1M128 235h1M132 235h1M135 235h1M152 235h1M158 235h1M75 236h1M78 236h1M81 236h1M82 236h1M84 236h1M90 236h1M112 236h1M115 236h1M122 236h1M127 236h1M134 236h1M138 236h1M141 236h1M62 237h1M81 237h1M83 237h1M84 237h1M85 237h1M92 237h1M111 237h1M119 237h1M130 237h1M151 237h1M63 238h1M64 238h1M69 238h1M75 238h1M83 238h1M87 238h1M108 238h1M110 238h1M132 238h1M133 238h1M136 238h1M137 238h1M61 239h1M63 239h1M89 239h1M96 239h1M108 239h1M122 239h1M140 239h1M64 240h1M71 240h1M72 240h1M90 240h1M91 240h1M107 240h1M111 240h1M112 240h1M119 240h1M121 240h1M78 241h1M96 241h1M104 241h1M110 241h1M113 241h1M122 241h1M124 241h1M68 242h1M89 242h1M92 242h1M93 242h1M105 242h1M107 242h1M129 242h1M135 242h1M144 242h1M145 242h1M82 243h1M89 243h1M97 243h1M104 243h1M111 243h1M112 243h1M118 243h1M127 243h1M132 243h1M134 243h1M135 243h1M141 243h1M148 243h1M65 244h1M71 244h1M79 244h1M82 244h1M86 244h1M101 244h1M106 244h1M113 244h1M119 244h1M136 244h1M149 244h1M62 245h1M66 245h1M77 245h1M86 245h1M89 245h1M105 245h1M106 245h1M120 245h1M138 245h1M65 246h1M86 246h1M92 246h1M96 246h1M100 246h1M102 246h1M106 246h1M108 246h1M115 246h1M122 246h1M125 246h1M128 246h1M143 246h1M68 247h1M94 247h1M122 247h1M125 247h1M132 247h1M135 247h1M141 247h1M63 248h1M89 248h1M95 248h1M97 248h1M105 248h1M119 248h1M122 248h1M77 249h1M93 249h1M99 249h1M106 249h1M109 249h1M130 249h1M88 250h1M91 250h1M104 250h1M110 250h1M116 250h1M119 250h1M82 251h1M113 251h1M87 252h1M88 252h1M75 253h1M100 254h1M113 255h1M126 215h1M146 220h1M122 221h1M100 222h1M105 222h1M118 222h1M119 222h1M115 223h1M117 223h1M137 223h1M138 223h1M117 224h1M136 224h1M142 224h1M112 225h1M113 225h1M119 225h1M124 225h1M132 225h1M108 226h1M135 226h1M151 226h1M107 227h1M136 227h1M148 227h1M100 228h1M104 228h1M108 228h1M112 228h1M115 228h1M124 228h1M126 228h1M127 228h1M132 228h1M133 228h1M136 228h1M137 228h1M142 228h1M144 228h1M152 228h1M101 229h1M113 229h1M114 229h1M115 229h1M126 229h1M129 229h1M135 229h1M143 229h1M111 230h1M123 230h1M139 230h1M141 230h1M106 231h1M110 231h1M114 231h1M119 231h1M147 231h1M151 231h1M153 231h1M111 232h1M114 232h1M117 232h1M123 232h1M130 232h1M131 232h1M136 232h1M147 232h1M96 233h1M101 233h1M107 233h1M114 233h1M115 233h1M118 233h1M121 233h1M124 233h1M126 233h1M128 233h1M131 233h1M136 233h1M141 233h1M143 233h1M106 234h1M111 234h1M116 234h1M122 234h1M124 234h1M128 234h1M132 234h1M134 234h1M138 234h1M142 234h1M145 234h1M149 234h1M106 235h1M109 235h1M112 235h1M118 235h1M121 235h1M129 235h1M131 235h1M136 235h1M142 235h1M144 235h1M147 235h1M149 235h1M98 236h1M112 236h1M120 236h1M123 236h1M124 236h1M131 236h1M138 236h1M142 236h1M144 236h1M147 236h1M97 237h1M105 237h1M108 237h1M112 237h1M113 237h1M114 237h1M116 237h1M118 237h1M122 237h1M131 237h1M135 237h1M140 237h1M141 237h1M111 238h1M122 238h1M127 238h1M132 238h1M134 238h1M136 238h1M137 238h1M140 238h1M142 238h1M143 238h1M122 239h1M125 239h1M127 239h1M130 239h1M131 239h1M138 239h1M142 239h1M121 240h1M123 240h1M128 240h1M129 240h1M130 240h1M133 240h1M139 240h1M114 241h1M119 241h1M120 241h1M123 241h1M126 241h1M128 241h1M147 241h1M151 241h1M101 242h1M102 242h1M106 242h1M114 242h1M116 242h1M123 242h1M127 242h1M135 242h1M142 242h1M149 242h1M93 243h1M107 243h1M112 243h1M116 243h1M119 243h1M125 243h1M137 243h1M139 243h1M143 243h1M144 243h1M148 243h1M108 244h1M116 244h1M122 244h1M123 244h1M128 244h1M131 244h1M133 244h1M144 244h1M113 245h1M121 245h1M129 245h1M131 245h1M132 245h1M134 245h1M135 245h1M136 245h1M143 245h1M145 245h1M107 246h1M118 246h1M120 246h1M124 246h1M131 246h1M135 246h1M137 246h1M148 246h1M106 247h1M115 247h1M117 247h1M137 247h1M144 247h1M111 248h1M119 248h1M122 248h1M112 249h1M137 249h1M145 249h1M132 250h1M126 254h1M109 256h1" stroke="#8c8c8c" stroke-width="1" fill="none" transform="translate(0 0.5)" filter="url(#b04)"/>
<path d="M127 232h1M115 233h1M118 233h1M126 233h1M135 233h1M143 234h1M118 235h1M119 235h1M137 235h1M115 236h1M116 236h1M122 236h1M131 236h1M132 236h1M133 236h1M137 236h1M138 236h1M101 237h1M107 237h1M108 237h1M111 237h1M123 237h1M128 237h1M129 237h1M130 237h1M131 237h1M132 237h1M137 237h1M138 237h1M145 237h1M95 238h1M99 238h1M104 238h1M108 238h1M109 238h1M112 238h1M113 238h1M115 238h1M117 238h1M118 238h1M119 238h1M120 238h1M127 238h1M129 238h1M130 238h1M132 238h1M134 238h1M137 238h1M102 239h1M103 239h1M106 239h1M108 239h1M109 239h1M115 239h1M117 239h1M118 239h1M119 239h1M122 239h1M123 239h1M124 239h1M125 239h1M128 239h1M129 239h1M130 239h1M131 239h1M132 239h1M133 239h1M134 239h1M135 239h1M140 239h1M93 240h1M95 240h1M96 240h1M99 240h1M101 240h1M105 240h1M106 240h1M107 240h1M108 240h1M109 240h1M110 240h1M111 240h1M112 240h1M113 240h1M114 240h1M115 240h1M116 240h1M119 240h1M120 240h1M133 240h1M134 240h1M135 240h1M136 240h1M137 240h1M138 240h1M139 240h1M140 240h1M89 241h1M98 241h1M99 241h1M100 241h1M102 241h1M104 241h1M106 241h1M107 241h1M108 241h1M110 241h1M113 241h1M139 241h1M142 241h1M143 241h1M65 242h1M82 242h1M89 242h1M92 242h1M97 242h1M99 242h1M105 242h1M107 242h1M108 242h1M141 242h1M142 242h1M145 242h1M146 242h1M75 243h1M86 243h1M93 243h1M96 243h1M97 243h1M98 243h1M99 243h1M100 243h1M101 243h1M102 243h1M103 243h1M104 243h1M144 243h1M146 243h1M151 243h1M64 244h1M69 244h1M75 244h1M78 244h1M80 244h1M86 244h1M94 244h1M97 244h1M98 244h1M100 244h1M144 244h1M147 244h1M65 245h1M68 245h1M69 245h1M72 245h1M77 245h1M80 245h1M81 245h1M87 245h1M88 245h1M91 245h1M96 245h1M146 245h1M151 245h1M65 246h1M73 246h1M78 246h1M80 246h1M86 246h1M89 246h1M90 246h1M91 246h1M92 246h1M149 246h1M62 247h1M65 247h1M69 247h1M70 247h1M71 247h1M73 247h1M75 247h1M77 247h1M78 247h1M81 247h1M86 247h1M87 247h1M90 247h1M91 247h1M144 247h1M148 247h1M61 248h1M62 248h1M65 248h1M69 248h1M75 248h1M76 248h1M77 248h1M78 248h1M80 248h1M81 248h1M82 248h1M83 248h1M85 248h1M86 248h1M87 248h1M144 248h1M145 248h1M146 248h1M147 248h1M149 248h1M61 249h1M62 249h1M63 249h1M64 249h1M65 249h1M66 249h1M68 249h1M69 249h1M70 249h1M72 249h1M73 249h1M75 249h1M77 249h1M78 249h1M79 249h1M80 249h1M81 249h1M82 249h1M83 249h1M146 249h1M150 249h1M71 250h1M72 250h1M74 250h1M75 250h1M76 250h1M77 250h1M144 250h1M146 250h1M145 251h1M146 251h1M144 252h1M145 252h1M147 252h1M144 253h1M145 253h1M144 254h1M145 254h1M146 254h1M150 254h1M144 255h1M146 255h1M151 255h1M144 256h1M145 256h1M146 256h1M144 257h1M145 257h1M146 257h1M149 257h1M146 258h1M149 258h1M144 259h1M145 259h1M146 259h1M147 259h1M148 259h1M144 260h1M146 260h1M148 260h1M145 261h1M146 261h1M149 262h1M145 263h1M149 263h1M144 264h1M145 264h1M144 265h1M145 265h1M146 265h1M144 266h1M144 267h1M145 267h1M146 267h1M144 268h1M146 268h1M148 268h1M150 268h1M144 269h1M145 269h1M147 269h1M148 269h1M152 269h1M61 270h1M62 270h1M145 270h1M149 270h1M61 271h1M62 271h1M63 271h1M65 271h1M66 271h1M144 271h1M147 271h1M151 271h1M63 272h1M65 272h1M66 272h1M67 272h1M146 272h1M147 272h1M61 273h1M65 273h1M67 273h1M68 273h1M69 273h1M70 273h1M144 273h1M61 274h1M62 274h1M65 274h1M66 274h1M67 274h1M69 274h1M71 274h1M72 274h1M63 275h1M65 275h1M67 275h1M69 275h1M70 275h1M73 275h1M144 275h1M145 275h1M146 275h1M150 275h1M61 276h1M72 276h1M73 276h1M75 276h1M144 276h1M145 276h1M146 276h1M61 277h1M69 277h1M71 277h1M72 277h1M73 277h1M77 277h1M145 277h1M65 278h1M70 278h1M71 278h1M73 278h1M74 278h1M78 278h1M145 278h1M148 278h1M149 278h1M61 279h1M70 279h1M72 279h1M75 279h1M76 279h1M77 279h1M79 279h1M144 279h1M146 279h1M147 279h1M76 280h1M77 280h1M78 280h1M144 280h1M145 280h1M74 281h1M77 281h1M79 281h1M81 281h1M144 281h1M146 281h1M148 281h1M80 282h1M82 282h1M83 282h1M145 282h1M146 282h1M150 282h1M76 283h1M79 283h1M84 283h1M80 284h1M81 284h1M82 284h1M85 284h1M145 284h1M148 284h1M81 285h1M145 285h1M146 285h1M79 286h1M82 286h1M85 286h1M87 286h1M148 286h1M84 287h1M86 287h1M87 287h1M146 287h1M147 287h1M149 287h1M79 288h1M81 288h1M87 288h1M89 288h1M90 288h1M146 288h1M147 288h1M148 288h1M150 288h1M84 289h1M87 289h1M88 289h1M89 289h1M146 289h1M147 289h1M148 289h1M87 290h1M89 290h1M147 290h1M151 290h1" stroke="#7a7a7a" stroke-width="1" fill="none" transform="translate(0 0.5)" filter="url(#b04)"/>
<path d="M50.0 251.0C55.0 247.9 71.7 250.7 80.0 249.5C88.3 248.3 94.2 245.5 100.0 244.0C105.8 242.5 110.0 241.2 115.0 240.5C120.0 239.8 125.5 239.2 130.0 239.5C134.5 239.8 139.5 240.2 142.0 242.0C144.5 243.8 144.5 243.7 145.0 250.0C145.5 256.3 145.0 271.7 145.0 280.0C145.0 288.3 152.5 296.7 145.0 300.0C137.5 303.3 109.2 301.8 100.0 300.0C90.8 298.2 93.7 292.5 90.0 289.0C86.3 285.5 82.0 281.8 78.0 279.0C74.0 276.2 70.7 273.8 66.0 272.0C61.3 270.2 52.7 271.5 50.0 268.0C47.3 264.5 45.0 254.1 50.0 251.0Z" fill="#000" filter="url(#g1)" />
<path d="M50.0 251.0C55.0 247.9 71.7 250.7 80.0 249.5C88.3 248.3 94.2 245.5 100.0 244.0C105.8 242.5 110.0 241.2 115.0 240.5C120.0 239.8 125.5 239.2 130.0 239.5C134.5 239.8 139.5 240.2 142.0 242.0C144.5 243.8 144.5 243.7 145.0 250.0C145.5 256.3 145.0 271.7 145.0 280.0C145.0 288.3 152.5 296.7 145.0 300.0C137.5 303.3 109.2 301.8 100.0 300.0C90.8 298.2 93.7 292.5 90.0 289.0C86.3 285.5 82.0 281.8 78.0 279.0C74.0 276.2 70.7 273.8 66.0 272.0C61.3 270.2 52.7 271.5 50.0 268.0C47.3 264.5 45.0 254.1 50.0 251.0Z" fill="#000" filter="url(#mott)" opacity="0.35"/>
<path d="M50.0 251.0C55.0 247.9 71.7 250.7 80.0 249.5C88.3 248.3 94.2 245.5 100.0 244.0C105.8 242.5 110.0 241.2 115.0 240.5C120.0 239.8 125.5 239.2 130.0 239.5C134.5 239.8 139.5 240.2 142.0 242.0C144.5 243.8 144.5 243.7 145.0 250.0C145.5 256.3 145.0 271.7 145.0 280.0C145.0 288.3 152.5 296.7 145.0 300.0C137.5 303.3 109.2 301.8 100.0 300.0C90.8 298.2 93.7 292.5 90.0 289.0C86.3 285.5 82.0 281.8 78.0 279.0C74.0 276.2 70.7 273.8 66.0 272.0C61.3 270.2 52.7 271.5 50.0 268.0C47.3 264.5 45.0 254.1 50.0 251.0Z" fill="#000" filter="url(#mottl)" opacity="0.3"/>
<path d="M50 246 L107 246 L107 252 L50 252Z" fill="#b0b0b0" filter="url(#b1)" opacity="0.7"/>
<path d="M74.0 261.0C74.3 259.5 81.7 261.5 86.0 263.0C90.3 264.5 95.7 267.2 100.0 270.0C104.3 272.8 108.5 276.3 112.0 280.0C115.5 283.7 121.7 289.8 121.0 292.0C120.3 294.2 112.0 294.3 108.0 293.0C104.0 291.7 101.0 287.5 97.0 284.0C93.0 280.5 87.8 275.8 84.0 272.0C80.2 268.2 73.7 262.5 74.0 261.0Z" fill="#a4a4a4" filter="url(#b2)" />
<path d="M103.0 252.0C103.8 248.8 106.8 246.1 110.0 244.5C113.2 242.9 117.8 242.8 122.0 242.5C126.2 242.2 131.8 242.1 135.0 243.0C138.2 243.9 139.9 244.8 141.0 248.0C142.1 251.2 141.8 257.5 141.5 262.0C141.2 266.5 140.4 271.2 139.0 275.0C137.6 278.8 135.2 282.8 133.0 285.0C130.8 287.2 128.7 288.0 126.0 288.0C123.3 288.0 119.7 287.0 117.0 285.0C114.3 283.0 112.0 279.5 110.0 276.0C108.0 272.5 106.2 268.0 105.0 264.0C103.8 260.0 102.2 255.2 103.0 252.0Z" fill="#6c6c6c" filter="url(#b1)" />
<path d="M110.0 254.0C110.7 251.3 112.2 249.2 115.0 248.0C117.8 246.8 123.6 247.0 127.0 247.0C130.4 247.0 133.8 246.5 135.5 248.0C137.2 249.5 136.8 252.7 137.0 256.0C137.2 259.3 137.3 264.3 136.5 268.0C135.7 271.7 133.6 275.7 132.0 278.0C130.4 280.3 128.8 281.7 127.0 282.0C125.2 282.3 122.8 281.5 121.0 280.0C119.2 278.5 117.7 275.7 116.0 273.0C114.3 270.3 112.0 267.2 111.0 264.0C110.0 260.8 109.3 256.7 110.0 254.0Z" fill="#383838" filter="url(#b05)" />
</g>
<g clip-path="url(#c5)">
<path d="M261 172h1M316 172h1M339 173h1M261 176h1M232 177h1M286 179h1M289 179h1M335 180h1M278 183h1M307 186h1M328 187h1M349 187h1M310 189h1M326 189h1M318 190h1M280 191h1M300 192h1M262 194h1M305 197h1M251 198h1M265 202h1M294 211h1M309 211h1M233 213h1M237 219h1M341 219h1M342 219h1M250 221h1M276 227h1M309 228h1M289 229h1M330 232h1M281 233h1M294 233h1M281 234h1M331 234h1M276 241h1M233 251h1M312 251h1M349 251h1M230 257h1M242 258h1M260 258h1M319 265h1M283 267h1M245 269h1M257 269h1M298 269h1M313 269h1M347 274h1M330 278h1M308 281h1M251 282h1M230 283h1M262 284h1" stroke="#b0b0b0" stroke-width="1" fill="none" transform="translate(0 0.5)" filter="url(#b04)"/>
<path d="M300 210h1M304 211h1M288 212h1M295 212h1M296 212h1M298 212h1M304 212h1M286 213h1M290 213h1M299 213h1M306 213h1M290 214h1M296 214h1M283 215h1M288 215h1M300 215h1M302 215h1M282 216h1M286 216h1M291 216h1M302 216h1M287 217h1M296 217h1M302 217h1M307 217h1M281 218h1M283 218h1M291 218h1M292 218h1M296 218h1M299 218h1M281 219h1M283 219h1M285 219h1M286 219h1M289 219h1M291 219h1M292 219h1M294 219h1M308 219h1M285 220h1M292 220h1M295 220h1M297 220h1M298 220h1M302 220h1M284 221h1M287 221h1M288 221h1M290 221h1M292 221h1M298 221h1M302 221h1M285 222h1M288 222h1M292 222h1M295 222h1M296 222h1M299 222h1M303 222h1M294 223h1M297 223h1M304 223h1M280 224h1M282 224h1M283 224h1M288 224h1M290 224h1M292 224h1M293 224h1M303 224h1M279 225h1M285 225h1M296 225h1M299 225h1M312 225h1M279 226h1M280 226h1M281 226h1M286 226h1M291 226h1M299 226h1M278 227h1M282 227h1M283 227h1M285 227h1M289 227h1M290 227h1M291 227h1M297 227h1M306 227h1M280 228h1M281 228h1M282 228h1M283 228h1M284 228h1M286 228h1M289 228h1M290 228h1M293 228h1M306 228h1M278 229h1M282 229h1M285 229h1M286 229h1M288 229h1M290 229h1M298 229h1M308 229h1M277 230h1M280 230h1M282 230h1M285 230h1M297 230h1M301 230h1M305 230h1M278 231h1M280 231h1M286 231h1M295 231h1M280 232h1M283 232h1M299 232h1M303 232h1M275 233h1M276 233h1M277 233h1M282 233h1M283 233h1M292 233h1M303 233h1M304 233h1M279 234h1M278 235h1M279 235h1M280 235h1M288 235h1M290 235h1M294 235h1M296 235h1M298 235h1M302 235h1M276 236h1M283 236h1M284 236h1M286 236h1M298 236h1M300 236h1M273 237h1M275 237h1M276 237h1M279 237h1M280 237h1M281 237h1M282 237h1M283 237h1M284 237h1M285 237h1M288 237h1M289 237h1M291 237h1M293 237h1M294 237h1M301 237h1M274 238h1M277 238h1M280 238h1M283 238h1M284 238h1M286 238h1M287 238h1M299 238h1M303 238h1M272 239h1M274 239h1M275 239h1M278 239h1M279 239h1M280 239h1M281 239h1M292 239h1M272 240h1M277 240h1M279 240h1M284 240h1M287 240h1M288 240h1M296 240h1M297 240h1M298 240h1M302 240h1M272 241h1M277 241h1M283 241h1M284 241h1M292 241h1M293 241h1M296 241h1M305 241h1M273 242h1M275 242h1M276 242h1M277 242h1M286 242h1M290 242h1M269 243h1M271 243h1M272 243h1M281 243h1M282 243h1M284 243h1M287 243h1M288 243h1M289 243h1M290 243h1M295 243h1M270 244h1M273 244h1M281 244h1M282 244h1M284 244h1M288 244h1M291 244h1M292 244h1M294 244h1M295 244h1M296 244h1M272 245h1M275 245h1M276 245h1M280 245h1M281 245h1M285 245h1M287 245h1M289 245h1M296 245h1M297 245h1M298 245h1M266 246h1M271 246h1M276 246h1M278 246h1M280 246h1M285 246h1M292 246h1M295 246h1M296 246h1M266 247h1M268 247h1M269 247h1M276 247h1M278 247h1M280 247h1M282 247h1M291 247h1M292 247h1M295 247h1M299 247h1M268 248h1M276 248h1M282 248h1M285 248h1M269 249h1M270 249h1M273 249h1M278 249h1M281 249h1M284 249h1M285 249h1M291 249h1M295 249h1M262 250h1M264 250h1M266 250h1M268 250h1M269 250h1M270 250h1M271 250h1M272 250h1M277 250h1M278 250h1M282 250h1M285 250h1M286 250h1M287 250h1M291 250h1M262 251h1M268 251h1M275 251h1M276 251h1M277 251h1M286 251h1M259 252h1M268 252h1M272 252h1M273 252h1M274 252h1M276 252h1M278 252h1M281 252h1M283 252h1M295 252h1M298 252h1M261 253h1M262 253h1M266 253h1M270 253h1M274 253h1M254 254h1M260 254h1M263 254h1M266 254h1M267 254h1M269 254h1M270 254h1M272 254h1M273 254h1M274 254h1M276 254h1M278 254h1M298 254h1M254 255h1M255 255h1M257 255h1M258 255h1M261 255h1M264 255h1M267 255h1M276 255h1M282 255h1M283 255h1M284 255h1M246 256h1M248 256h1M255 256h1M257 256h1M258 256h1M259 256h1M260 256h1M261 256h1M270 256h1M273 256h1M276 256h1M279 256h1M281 256h1M284 256h1M293 256h1M251 257h1M252 257h1M260 257h1M261 257h1M263 257h1M283 257h1M293 257h1M240 258h1M245 258h1M252 258h1M254 258h1M262 258h1M263 258h1M264 258h1M265 258h1M266 258h1M281 258h1M293 258h1M243 259h1M246 259h1M249 259h1M252 259h1M254 259h1M256 259h1M257 259h1M258 259h1M266 259h1M269 259h1M271 259h1M275 259h1M278 259h1M280 259h1M285 259h1M288 259h1M291 259h1M244 260h1M252 260h1M253 260h1M255 260h1M260 260h1M263 260h1M264 260h1M266 260h1M273 260h1M275 260h1M290 260h1M239 261h1M250 261h1M257 261h1M258 261h1M260 261h1M261 261h1M270 261h1M272 261h1M277 261h1M239 262h1M255 262h1M258 262h1M263 262h1M264 262h1M272 262h1M274 262h1M277 262h1M280 262h1M281 262h1M284 262h1M248 263h1M249 263h1M253 263h1M255 263h1M273 263h1M284 263h1M285 263h1M246 264h1M247 264h1M253 264h1M254 264h1M258 264h1M261 264h1M268 264h1M270 264h1M243 265h1M244 265h1M249 265h1M250 265h1M251 265h1M263 265h1M280 265h1M248 266h1M249 266h1M261 266h1M267 266h1M272 266h1M282 266h1M242 267h1M247 267h1M250 267h1M251 267h1M253 267h1M256 267h1M257 267h1M263 267h1M266 267h1M229 268h1M244 268h1M254 268h1M255 268h1M257 268h1M261 268h1M270 268h1M271 268h1M240 269h1M242 269h1M244 269h1M251 269h1M261 269h1M264 269h1M275 269h1M241 270h1M248 270h1M254 270h1M259 270h1M235 271h1M252 271h1M253 271h1M257 271h1M241 272h1M262 272h1M237 273h1M266 273h1M247 274h1M253 274h1M254 275h1M259 275h1M262 276h1M259 279h1M256 280h1M234 282h1" stroke="#8a8a8a" stroke-width="1" fill="none" transform="translate(0 0.5)" filter="url(#b04)"/>
<path d="M235 199h1M253 199h1M238 200h1M241 201h1M258 201h1M259 201h1M263 201h1M231 202h1M234 202h1M252 202h1M253 202h1M257 202h1M258 202h1M260 202h1M262 202h1M265 202h1M230 203h1M232 203h1M233 203h1M235 203h1M236 203h1M237 203h1M238 203h1M239 203h1M242 203h1M244 203h1M249 203h1M263 203h1M266 203h1M271 203h1M229 204h1M231 204h1M235 204h1M238 204h1M242 204h1M245 204h1M248 204h1M251 204h1M254 204h1M256 204h1M257 204h1M258 204h1M266 204h1M267 204h1M270 204h1M272 204h1M278 204h1M230 205h1M231 205h1M233 205h1M235 205h1M237 205h1M239 205h1M245 205h1M248 205h1M250 205h1M251 205h1M253 205h1M255 205h1M257 205h1M258 205h1M259 205h1M262 205h1M263 205h1M265 205h1M266 205h1M267 205h1M270 205h1M273 205h1M277 205h1M235 206h1M237 206h1M238 206h1M239 206h1M242 206h1M243 206h1M244 206h1M245 206h1M246 206h1M247 206h1M248 206h1M251 206h1M252 206h1M253 206h1M254 206h1M255 206h1M257 206h1M258 206h1M259 206h1M260 206h1M262 206h1M265 206h1M270 206h1M275 206h1M276 206h1M241 207h1M242 207h1M243 207h1M244 207h1M245 207h1M246 207h1M249 207h1M250 207h1M251 207h1M253 207h1M254 207h1M255 207h1M256 207h1M259 207h1M260 207h1M261 207h1M263 207h1M264 207h1M265 207h1M266 207h1M267 207h1M272 207h1M273 207h1M276 207h1M278 207h1M281 207h1M283 207h1M273 208h1M274 208h1M275 208h1M277 208h1M278 208h1M281 208h1M277 209h1M278 209h1M279 209h1M280 209h1M279 210h1M284 210h1M279 211h1M280 212h1M282 212h1M280 213h1M281 213h1M284 213h1M280 214h1M281 214h1M284 214h1M280 215h1M282 215h1M285 215h1M281 216h1M283 216h1M284 216h1M280 217h1M281 217h1M281 218h1M282 218h1M286 218h1M280 219h1M280 220h1M281 221h1M284 221h1M279 222h1M282 222h1M280 223h1M282 223h1M279 224h1M280 224h1M281 224h1M282 224h1M283 224h1M278 225h1M282 225h1M279 226h1M282 226h1M278 227h1M279 227h1M280 227h1M284 227h1M277 228h1M278 228h1M277 229h1M278 229h1M279 229h1M282 229h1M276 230h1M277 230h1M283 230h1M276 231h1M277 231h1M278 231h1M275 232h1M276 232h1M278 233h1M274 234h1M275 234h1M277 234h1M277 235h1M279 235h1M274 236h1M275 236h1M276 236h1M273 237h1M274 237h1M276 237h1M281 237h1M272 238h1M276 238h1M277 238h1M271 239h1M272 239h1M275 239h1M278 239h1M270 240h1M271 240h1M273 240h1M271 241h1M272 241h1M269 242h1M270 242h1M275 242h1M270 243h1M271 243h1M268 244h1M269 244h1M271 244h1M267 245h1M269 245h1M270 245h1M271 245h1M272 245h1M266 246h1M265 247h1M268 247h1M270 247h1M267 248h1M269 248h1M263 249h1M266 249h1M267 249h1M262 250h1M263 250h1M265 250h1M261 251h1M262 251h1M263 251h1M267 251h1M259 252h1M260 252h1M261 252h1M264 252h1M267 252h1M256 253h1M257 253h1M258 253h1M259 253h1M262 253h1M263 253h1M254 254h1M262 254h1M265 254h1M266 254h1M250 255h1M251 255h1M252 255h1M253 255h1M254 255h1M255 255h1M256 255h1M258 255h1M263 255h1M240 256h1M241 256h1M242 256h1M243 256h1M245 256h1M246 256h1M249 256h1M250 256h1M252 256h1M255 256h1M256 256h1M257 256h1M258 256h1M264 256h1M265 256h1M235 257h1M239 257h1M240 257h1M241 257h1M242 257h1M243 257h1M244 257h1M246 257h1M248 257h1M249 257h1M253 257h1M258 257h1M259 257h1M263 257h1M232 258h1M233 258h1M234 258h1M235 258h1M236 258h1M238 258h1M242 258h1M243 258h1M244 258h1M245 258h1M246 258h1M229 259h1M237 259h1M239 259h1M240 259h1M242 259h1M243 259h1M244 259h1M245 259h1M248 259h1M254 259h1M230 260h1M231 260h1M232 260h1M235 260h1M240 260h1M241 260h1M242 260h1M248 260h1M229 261h1M231 261h1M233 261h1M230 262h1M231 262h1M234 262h1M235 262h1M237 262h1M239 262h1M244 262h1M246 262h1M233 263h1M235 263h1M236 263h1M232 264h1M235 264h1M239 264h1" stroke="#6c6c6c" stroke-width="1" fill="none" transform="translate(0 0.5)" filter="url(#b04)"/>
<path d="M220.0 209.0C224.2 200.8 237.5 207.3 245.0 207.0C252.5 206.7 259.6 206.7 265.0 207.0C270.4 207.3 274.8 207.7 277.5 209.0C280.2 210.3 280.8 212.2 281.0 215.0C281.2 217.8 280.3 222.2 279.0 226.0C277.7 229.8 275.3 234.2 273.0 238.0C270.7 241.8 268.0 246.2 265.0 249.0C262.0 251.8 258.8 253.7 255.0 255.0C251.2 256.3 247.8 256.8 242.0 257.0C236.2 257.2 223.7 264.0 220.0 256.0C216.3 248.0 215.8 217.2 220.0 209.0Z" fill="#000" filter="url(#g1)" />
<path d="M220.0 209.0C224.2 200.8 237.5 207.3 245.0 207.0C252.5 206.7 259.6 206.7 265.0 207.0C270.4 207.3 274.8 207.7 277.5 209.0C280.2 210.3 280.8 212.2 281.0 215.0C281.2 217.8 280.3 222.2 279.0 226.0C277.7 229.8 275.3 234.2 273.0 238.0C270.7 241.8 268.0 246.2 265.0 249.0C262.0 251.8 258.8 253.7 255.0 255.0C251.2 256.3 247.8 256.8 242.0 257.0C236.2 257.2 223.7 264.0 220.0 256.0C216.3 248.0 215.8 217.2 220.0 209.0Z" fill="#000" filter="url(#mott)" opacity="0.3"/>
<path d="M233.0 221.0C234.0 216.2 236.0 211.2 240.0 209.0C244.0 206.8 251.8 207.8 257.0 207.5C262.2 207.2 267.4 206.8 271.0 207.5C274.6 208.2 277.3 209.1 278.5 212.0C279.7 214.9 279.1 221.0 278.0 225.0C276.9 229.0 274.3 232.5 272.0 236.0C269.7 239.5 267.0 243.7 264.0 246.0C261.0 248.3 257.5 249.7 254.0 250.0C250.5 250.3 246.3 250.0 243.0 248.0C239.7 246.0 235.7 242.5 234.0 238.0C232.3 233.5 232.0 225.8 233.0 221.0Z" fill="#666" filter="url(#b1)" />
<path d="M239.5 221.0C240.4 218.4 242.6 215.0 245.5 213.5C248.4 212.0 253.2 212.1 257.0 211.8C260.8 211.5 265.6 211.2 268.5 211.8C271.4 212.4 273.4 213.4 274.2 215.5C275.0 217.6 274.4 221.6 273.5 224.5C272.6 227.4 270.9 230.4 269.0 233.0C267.1 235.6 264.5 238.7 262.0 240.0C259.5 241.3 256.8 241.4 254.0 241.0C251.2 240.6 247.8 239.5 245.5 237.5C243.2 235.5 241.0 231.8 240.0 229.0C239.0 226.2 238.6 223.6 239.5 221.0Z" fill="#8e8e8e" filter="url(#b05)" />
<path d="M242.0 221.0C242.9 218.9 245.3 216.6 248.0 215.5C250.7 214.4 254.7 214.4 258.0 214.2C261.3 214.0 265.7 213.7 268.0 214.2C270.3 214.7 271.3 215.4 271.8 217.0C272.3 218.6 271.8 221.7 271.0 224.0C270.2 226.3 268.7 228.8 267.0 231.0C265.3 233.2 263.2 235.8 261.0 237.0C258.8 238.2 256.3 238.7 254.0 238.4C251.7 238.1 248.9 236.7 247.0 235.0C245.1 233.3 243.3 230.3 242.5 228.0C241.7 225.7 241.1 223.1 242.0 221.0Z" fill="#353535" filter="url(#b05)" />
</g>
<path d="M454.6 265.5h1.2M449.9 236.8h1.2M458.4 254.8h1.2M463.7 242.0h1.2M465.9 261.5h1.2M461.3 226.4h1.2M459.7 252.4h1.2M465.4 233.6h1.2M458.2 262.5h1.2M461.5 238.9h1.2M457.9 247.8h1.2M462.5 245.2h1.2M455.5 227.6h1.2M463.9 262.6h1.2M461.2 256.6h1.2M463.7 237.0h1.2M459.8 237.6h1.2M452.4 250.5h1.2M456.4 232.5h1.2M455.3 243.7h1.2M457.9 236.5h1.2M462.9 242.1h1.2M457.3 242.7h1.2M453.4 224.8h1.2M461.9 236.3h1.2M457.8 257.2h1.2M458.4 261.4h1.2M457.8 231.6h1.2M462.5 248.4h1.2M461.8 239.0h1.2M459.0 231.2h1.2M451.2 234.7h1.2M454.7 238.6h1.2M458.0 273.2h1.2M463.8 241.9h1.2M454.9 231.9h1.2M451.2 238.9h1.2M456.6 222.0h1.2M457.2 258.3h1.2M468.3 251.6h1.2M460.4 237.0h1.2M463.5 238.2h1.2M453.8 229.2h1.2M457.7 237.2h1.2M458.4 221.8h1.2M461.0 242.5h1.2M473.5 238.7h1.2M449.3 237.4h1.2M457.5 229.5h1.2M464.6 236.4h1.2M454.5 219.9h1.2M459.7 279.8h1.2M465.1 248.0h1.2M454.9 228.5h1.2M455.6 242.5h1.2M464.0 238.5h1.2M459.3 229.1h1.2M457.3 224.0h1.2M459.4 259.0h1.2M460.6 231.3h1.2M461.6 248.8h1.2M453.6 222.7h1.2M467.8 233.4h1.2M466.5 225.0h1.2M462.6 231.4h1.2M458.7 238.0h1.2M459.9 240.8h1.2M459.3 227.4h1.2M455.3 232.0h1.2M453.1 255.4h1.2M461.8 230.6h1.2M464.3 239.8h1.2M459.1 249.5h1.2M460.7 236.6h1.2M459.9 237.1h1.2M471.3 246.6h1.2M452.4 246.7h1.2M465.3 228.4h1.2M448.8 252.7h1.2M457.2 242.7h1.2M450.9 234.5h1.2M453.3 225.1h1.2M475.1 238.6h1.2M461.1 250.6h1.2M458.3 242.0h1.2M457.7 233.8h1.2M458.4 232.6h1.2M456.8 239.2h1.2M460.8 259.9h1.2M459.5 228.5h1.2M459.0 253.8h1.2M461.4 228.1h1.2M460.8 225.0h1.2M461.4 261.7h1.2M464.0 239.1h1.2M457.2 266.7h1.2M458.5 253.6h1.2M460.2 248.2h1.2M458.4 236.6h1.2M457.7 219.2h1.2M467.8 221.2h1.2M457.9 234.4h1.2M458.3 273.2h1.2M469.0 271.5h1.2M467.9 239.0h1.2M458.5 255.9h1.2M464.3 224.4h1.2M459.0 271.4h1.2M468.2 241.6h1.2M459.6 240.9h1.2M467.9 263.9h1.2M454.7 255.5h1.2M456.3 237.8h1.2M462.4 214.4h1.2M459.8 238.7h1.2M449.6 229.7h1.2M451.9 248.3h1.2M464.4 247.0h1.2M465.6 258.3h1.2M461.4 242.9h1.2M458.8 238.5h1.2M453.6 259.7h1.2M456.1 243.5h1.2M464.4 255.2h1.2M465.1 277.2h1.2M470.7 233.2h1.2M467.2 230.9h1.2M465.8 220.6h1.2M451.8 227.9h1.2M462.0 237.5h1.2M448.4 235.5h1.2M461.7 241.3h1.2M456.0 264.5h1.2M460.6 239.8h1.2M458.6 236.8h1.2M457.6 239.7h1.2M458.9 242.5h1.2M453.3 234.2h1.2M456.5 265.5h1.2M461.2 281.6h1.2M459.6 274.0h1.2M455.6 246.7h1.2M455.4 250.0h1.2M468.9 235.6h1.2M454.5 239.3h1.2M450.5 268.0h1.2M456.9 225.4h1.2M461.6 233.3h1.2M461.2 246.9h1.2M452.4 244.6h1.2M465.8 260.4h1.2M461.2 252.6h1.2M459.8 236.4h1.2M455.4 238.0h1.2M461.6 243.3h1.2M449.5 224.9h1.2M458.1 252.4h1.2M454.9 238.1h1.2M458.5 257.6h1.2M457.9 244.6h1.2M459.5 258.4h1.2M466.4 235.8h1.2M459.7 258.9h1.2M462.2 243.1h1.2M462.4 241.0h1.2M461.9 251.0h1.2M458.0 243.4h1.2M458.3 227.1h1.2M467.1 267.5h1.2M452.2 213.5h1.2M474.5 269.8h1.2M461.7 221.0h1.2M460.0 234.2h1.2M461.2 241.0h1.2M463.8 249.7h1.2M455.2 247.0h1.2M466.2 231.0h1.2M460.1 237.3h1.2M457.8 226.5h1.2M462.4 233.1h1.2M456.9 245.3h1.2M455.7 219.8h1.2M461.3 252.5h1.2M459.2 257.8h1.2M462.9 241.0h1.2M462.9 259.1h1.2M459.5 250.7h1.2M454.5 223.8h1.2M457.0 227.0h1.2M461.1 235.5h1.2M463.8 241.7h1.2M456.4 239.9h1.2M452.5 234.4h1.2M455.2 236.7h1.2M468.0 284.5h1.2M461.9 221.3h1.2M458.2 242.7h1.2M469.1 224.4h1.2M460.6 249.5h1.2M457.8 231.9h1.2M457.5 230.3h1.2M461.4 230.1h1.2M456.7 246.5h1.2M456.4 239.9h1.2M462.3 231.4h1.2M454.5 237.1h1.2M462.3 243.7h1.2M463.7 258.4h1.2M466.5 231.0h1.2M460.8 229.4h1.2M456.9 231.3h1.2M454.6 221.2h1.2M471.7 231.4h1.2M458.0 232.4h1.2M454.2 263.1h1.2M452.3 241.3h1.2M461.0 255.9h1.2M462.5 219.4h1.2M457.6 251.6h1.2M467.5 225.1h1.2M461.0 227.2h1.2M466.3 250.5h1.2M459.9 245.8h1.2M459.1 219.6h1.2M461.8 230.3h1.2M464.1 258.8h1.2M453.2 242.5h1.2M470.9 238.8h1.2M459.1 266.4h1.2M465.5 230.3h1.2M457.4 248.9h1.2M463.3 248.5h1.2M457.8 259.4h1.2M464.1 214.7h1.2M455.7 214.1h1.2M455.1 233.2h1.2M458.3 225.7h1.2M464.5 226.2h1.2M462.2 233.0h1.2M459.4 241.3h1.2M459.9 252.1h1.2M452.0 241.2h1.2M454.7 253.7h1.2M448.6 221.5h1.2M467.6 259.0h1.2M453.2 241.8h1.2M460.3 262.7h1.2M460.8 236.4h1.2M463.4 220.4h1.2M465.2 271.6h1.2M450.6 235.9h1.2M469.3 262.2h1.2M455.4 255.2h1.2M454.7 283.7h1.2M466.8 245.4h1.2M462.6 239.0h1.2M462.5 241.7h1.2M461.1 218.9h1.2M456.8 223.5h1.2M469.0 274.0h1.2M467.0 255.2h1.2M454.3 238.6h1.2M453.2 234.5h1.2M468.1 243.0h1.2M460.7 235.4h1.2M454.3 233.6h1.2M453.5 239.6h1.2M450.7 253.3h1.2M464.6 244.2h1.2M455.4 225.2h1.2M461.3 246.6h1.2M458.9 223.8h1.2M460.5 233.2h1.2M461.3 247.9h1.2M461.0 231.4h1.2M461.4 239.0h1.2M466.4 224.5h1.2M450.6 235.3h1.2M458.9 245.9h1.2M462.1 276.9h1.2M457.7 228.2h1.2M458.3 275.0h1.2M458.3 281.7h1.2M467.9 234.2h1.2M461.3 263.6h1.2M456.1 243.7h1.2M457.1 278.4h1.2M460.8 235.1h1.2M461.5 217.6h1.2M454.1 236.0h1.2M460.4 245.3h1.2M453.1 231.3h1.2M459.3 237.5h1.2M463.0 235.6h1.2M450.1 234.9h1.2M459.0 234.7h1.2M464.9 239.4h1.2M453.4 267.2h1.2M457.4 212.5h1.2M455.7 247.2h1.2M459.7 232.2h1.2M456.5 242.9h1.2M452.1 238.5h1.2M459.2 277.2h1.2M472.4 257.9h1.2M459.8 225.3h1.2M461.4 240.0h1.2M464.2 245.4h1.2M455.0 262.4h1.2M450.5 232.1h1.2M460.7 251.7h1.2M468.5 233.5h1.2M458.4 235.7h1.2M461.7 245.5h1.2M461.9 272.6h1.2M459.1 243.5h1.2M460.5 243.0h1.2M466.2 259.1h1.2M441.0 230.9h1.2M461.8 224.5h1.2M466.1 230.6h1.2M460.0 260.7h1.2M460.1 226.0h1.2M459.8 235.9h1.2M455.9 243.3h1.2M458.1 234.0h1.2M462.5 226.0h1.2M465.7 249.2h1.2M461.6 239.2h1.2M460.6 241.6h1.2M463.3 235.3h1.2M458.4 248.2h1.2M466.6 251.1h1.2M459.4 259.9h1.2M460.6 256.8h1.2M459.2 228.4h1.2M462.5 235.0h1.2M462.7 231.6h1.2M462.0 237.7h1.2M457.1 220.1h1.2M454.6 235.5h1.2M457.9 240.6h1.2M461.6 260.7h1.2M449.4 231.7h1.2M460.2 254.9h1.2M465.2 236.8h1.2M462.5 247.6h1.2M465.1 247.2h1.2M464.1 244.8h1.2M462.9 235.9h1.2M455.4 230.2h1.2M454.3 269.9h1.2M458.9 256.5h1.2M452.9 248.2h1.2M462.1 256.7h1.2M458.8 248.1h1.2M465.9 246.0h1.2" stroke="#666" stroke-width="1.2" fill="none" filter="url(#b04)"/>
<rect x="61" y="19.4" width="119.0" height="119.2" fill="none" stroke="#505050" stroke-width="1"/>
<path d="M59.8 130.6h2.4M69.0 138.3v2.4M60.2 122.8h1.6M76.8 138.3v1.6M60.2 118.2h1.6M81.4 138.3v1.6M60.2 114.9h1.6M84.7 138.3v1.6M60.2 112.4h1.6M87.2 138.3v1.6M60.2 110.4h1.6M89.2 138.3v1.6M60.2 108.6h1.6M91.0 138.3v1.6M60.2 107.1h1.6M92.5 138.3v1.6M60.2 105.8h1.6M93.8 138.3v1.6M59.8 104.6h2.4M95.0 138.3v2.4M60.2 96.8h1.6M102.8 138.3v1.6M60.2 92.2h1.6M107.4 138.3v1.6M60.2 88.9h1.6M110.7 138.3v1.6M60.2 86.4h1.6M113.2 138.3v1.6M60.2 84.4h1.6M115.2 138.3v1.6M60.2 82.6h1.6M117.0 138.3v1.6M60.2 81.1h1.6M118.5 138.3v1.6M60.2 79.8h1.6M119.8 138.3v1.6M59.8 78.6h2.4M121.0 138.3v2.4M60.2 70.8h1.6M128.8 138.3v1.6M60.2 66.2h1.6M133.4 138.3v1.6M60.2 62.9h1.6M136.7 138.3v1.6M60.2 60.4h1.6M139.2 138.3v1.6M60.2 58.4h1.6M141.2 138.3v1.6M60.2 56.6h1.6M143.0 138.3v1.6M60.2 55.1h1.6M144.5 138.3v1.6M60.2 53.8h1.6M145.8 138.3v1.6M59.8 52.6h2.4M147.0 138.3v2.4M60.2 44.8h1.6M154.8 138.3v1.6M60.2 40.2h1.6M159.4 138.3v1.6M60.2 36.9h1.6M162.7 138.3v1.6M60.2 34.4h1.6M165.2 138.3v1.6M60.2 32.4h1.6M167.2 138.3v1.6M60.2 30.6h1.6M169.0 138.3v1.6M60.2 29.1h1.6M170.5 138.3v1.6M60.2 27.8h1.6M171.8 138.3v1.6M59.8 26.6h2.4M173.0 138.3v2.4" stroke="#444" stroke-width="0.8" fill="none"/>
<rect x="229" y="19.4" width="120.2" height="119.2" fill="none" stroke="#505050" stroke-width="1"/>
<path d="M227.8 130.6h2.4M237.0 138.3v2.4M228.2 122.8h1.6M244.8 138.3v1.6M228.2 118.2h1.6M249.4 138.3v1.6M228.2 114.9h1.6M252.7 138.3v1.6M228.2 112.4h1.6M255.2 138.3v1.6M228.2 110.4h1.6M257.2 138.3v1.6M228.2 108.6h1.6M259.0 138.3v1.6M228.2 107.1h1.6M260.5 138.3v1.6M228.2 105.8h1.6M261.8 138.3v1.6M227.8 104.6h2.4M263.0 138.3v2.4M228.2 96.8h1.6M270.8 138.3v1.6M228.2 92.2h1.6M275.4 138.3v1.6M228.2 88.9h1.6M278.7 138.3v1.6M228.2 86.4h1.6M281.2 138.3v1.6M228.2 84.4h1.6M283.2 138.3v1.6M228.2 82.6h1.6M285.0 138.3v1.6M228.2 81.1h1.6M286.5 138.3v1.6M228.2 79.8h1.6M287.8 138.3v1.6M227.8 78.6h2.4M289.0 138.3v2.4M228.2 70.8h1.6M296.8 138.3v1.6M228.2 66.2h1.6M301.4 138.3v1.6M228.2 62.9h1.6M304.7 138.3v1.6M228.2 60.4h1.6M307.2 138.3v1.6M228.2 58.4h1.6M309.2 138.3v1.6M228.2 56.6h1.6M311.0 138.3v1.6M228.2 55.1h1.6M312.5 138.3v1.6M228.2 53.8h1.6M313.8 138.3v1.6M227.8 52.6h2.4M315.0 138.3v2.4M228.2 44.8h1.6M322.8 138.3v1.6M228.2 40.2h1.6M327.4 138.3v1.6M228.2 36.9h1.6M330.7 138.3v1.6M228.2 34.4h1.6M333.2 138.3v1.6M228.2 32.4h1.6M335.2 138.3v1.6M228.2 30.6h1.6M337.0 138.3v1.6M228.2 29.1h1.6M338.5 138.3v1.6M228.2 27.8h1.6M339.8 138.3v1.6M227.8 26.6h2.4M341.0 138.3v2.4" stroke="#444" stroke-width="0.8" fill="none"/>
<rect x="397.8" y="19.4" width="120.7" height="119.6" fill="none" stroke="#505050" stroke-width="1"/>
<path d="M396.6 131.0h2.4M405.8 138.7v2.4M397.0 123.2h1.6M413.6 138.7v1.6M397.0 118.6h1.6M418.2 138.7v1.6M397.0 115.3h1.6M421.5 138.7v1.6M397.0 112.8h1.6M424.0 138.7v1.6M397.0 110.8h1.6M426.0 138.7v1.6M397.0 109.0h1.6M427.8 138.7v1.6M397.0 107.5h1.6M429.3 138.7v1.6M397.0 106.2h1.6M430.6 138.7v1.6M396.6 105.0h2.4M431.8 138.7v2.4M397.0 97.2h1.6M439.6 138.7v1.6M397.0 92.6h1.6M444.2 138.7v1.6M397.0 89.3h1.6M447.5 138.7v1.6M397.0 86.8h1.6M450.0 138.7v1.6M397.0 84.8h1.6M452.0 138.7v1.6M397.0 83.0h1.6M453.8 138.7v1.6M397.0 81.5h1.6M455.3 138.7v1.6M397.0 80.2h1.6M456.6 138.7v1.6M396.6 79.0h2.4M457.8 138.7v2.4M397.0 71.2h1.6M465.6 138.7v1.6M397.0 66.6h1.6M470.2 138.7v1.6M397.0 63.3h1.6M473.5 138.7v1.6M397.0 60.8h1.6M476.0 138.7v1.6M397.0 58.8h1.6M478.0 138.7v1.6M397.0 57.0h1.6M479.8 138.7v1.6M397.0 55.5h1.6M481.3 138.7v1.6M397.0 54.2h1.6M482.6 138.7v1.6M396.6 53.0h2.4M483.8 138.7v2.4M397.0 45.2h1.6M491.6 138.7v1.6M397.0 40.6h1.6M496.2 138.7v1.6M397.0 37.3h1.6M499.5 138.7v1.6M397.0 34.8h1.6M502.0 138.7v1.6M397.0 32.8h1.6M504.0 138.7v1.6M397.0 31.0h1.6M505.8 138.7v1.6M397.0 29.5h1.6M507.3 138.7v1.6M397.0 28.2h1.6M508.6 138.7v1.6M396.6 27.0h2.4M509.8 138.7v2.4" stroke="#444" stroke-width="0.8" fill="none"/>
<rect x="60.6" y="171.2" width="120.4" height="119.1" fill="none" stroke="#505050" stroke-width="1"/>
<path d="M59.4 282.3h2.4M68.6 290.0v2.4M59.8 274.5h1.6M76.4 290.0v1.6M59.8 269.9h1.6M81.0 290.0v1.6M59.8 266.6h1.6M84.3 290.0v1.6M59.8 264.1h1.6M86.8 290.0v1.6M59.8 262.1h1.6M88.8 290.0v1.6M59.8 260.3h1.6M90.6 290.0v1.6M59.8 258.8h1.6M92.1 290.0v1.6M59.8 257.5h1.6M93.4 290.0v1.6M59.4 256.3h2.4M94.6 290.0v2.4M59.8 248.5h1.6M102.4 290.0v1.6M59.8 243.9h1.6M107.0 290.0v1.6M59.8 240.6h1.6M110.3 290.0v1.6M59.8 238.1h1.6M112.8 290.0v1.6M59.8 236.1h1.6M114.8 290.0v1.6M59.8 234.3h1.6M116.6 290.0v1.6M59.8 232.8h1.6M118.1 290.0v1.6M59.8 231.5h1.6M119.4 290.0v1.6M59.4 230.3h2.4M120.6 290.0v2.4M59.8 222.5h1.6M128.4 290.0v1.6M59.8 217.9h1.6M133.0 290.0v1.6M59.8 214.6h1.6M136.3 290.0v1.6M59.8 212.1h1.6M138.8 290.0v1.6M59.8 210.1h1.6M140.8 290.0v1.6M59.8 208.3h1.6M142.6 290.0v1.6M59.8 206.8h1.6M144.1 290.0v1.6M59.8 205.5h1.6M145.4 290.0v1.6M59.4 204.3h2.4M146.6 290.0v2.4M59.8 196.5h1.6M154.4 290.0v1.6M59.8 191.9h1.6M159.0 290.0v1.6M59.8 188.6h1.6M162.3 290.0v1.6M59.8 186.1h1.6M164.8 290.0v1.6M59.8 184.1h1.6M166.8 290.0v1.6M59.8 182.3h1.6M168.6 290.0v1.6M59.8 180.8h1.6M170.1 290.0v1.6M59.8 179.5h1.6M171.4 290.0v1.6M59.4 178.3h2.4M172.6 290.0v2.4" stroke="#444" stroke-width="0.8" fill="none"/>
<rect x="229" y="171.2" width="120.5" height="119.1" fill="none" stroke="#505050" stroke-width="1"/>
<path d="M227.8 282.3h2.4M237.0 290.0v2.4M228.2 274.5h1.6M244.8 290.0v1.6M228.2 269.9h1.6M249.4 290.0v1.6M228.2 266.6h1.6M252.7 290.0v1.6M228.2 264.1h1.6M255.2 290.0v1.6M228.2 262.1h1.6M257.2 290.0v1.6M228.2 260.3h1.6M259.0 290.0v1.6M228.2 258.8h1.6M260.5 290.0v1.6M228.2 257.5h1.6M261.8 290.0v1.6M227.8 256.3h2.4M263.0 290.0v2.4M228.2 248.5h1.6M270.8 290.0v1.6M228.2 243.9h1.6M275.4 290.0v1.6M228.2 240.6h1.6M278.7 290.0v1.6M228.2 238.1h1.6M281.2 290.0v1.6M228.2 236.1h1.6M283.2 290.0v1.6M228.2 234.3h1.6M285.0 290.0v1.6M228.2 232.8h1.6M286.5 290.0v1.6M228.2 231.5h1.6M287.8 290.0v1.6M227.8 230.3h2.4M289.0 290.0v2.4M228.2 222.5h1.6M296.8 290.0v1.6M228.2 217.9h1.6M301.4 290.0v1.6M228.2 214.6h1.6M304.7 290.0v1.6M228.2 212.1h1.6M307.2 290.0v1.6M228.2 210.1h1.6M309.2 290.0v1.6M228.2 208.3h1.6M311.0 290.0v1.6M228.2 206.8h1.6M312.5 290.0v1.6M228.2 205.5h1.6M313.8 290.0v1.6M227.8 204.3h2.4M315.0 290.0v2.4M228.2 196.5h1.6M322.8 290.0v1.6M228.2 191.9h1.6M327.4 290.0v1.6M228.2 188.6h1.6M330.7 290.0v1.6M228.2 186.1h1.6M333.2 290.0v1.6M228.2 184.1h1.6M335.2 290.0v1.6M228.2 182.3h1.6M337.0 290.0v1.6M228.2 180.8h1.6M338.5 290.0v1.6M228.2 179.5h1.6M339.8 290.0v1.6M227.8 178.3h2.4M341.0 290.0v2.4" stroke="#444" stroke-width="0.8" fill="none"/>
<rect x="398.5" y="171.2" width="120.0" height="118.8" fill="none" stroke="#505050" stroke-width="1"/>
<path d="M397.3 282.0h2.4M406.5 289.7v2.4M397.7 274.2h1.6M414.3 289.7v1.6M397.7 269.6h1.6M418.9 289.7v1.6M397.7 266.3h1.6M422.2 289.7v1.6M397.7 263.8h1.6M424.7 289.7v1.6M397.7 261.8h1.6M426.7 289.7v1.6M397.7 260.0h1.6M428.5 289.7v1.6M397.7 258.5h1.6M430.0 289.7v1.6M397.7 257.2h1.6M431.3 289.7v1.6M397.3 256.0h2.4M432.5 289.7v2.4M397.7 248.2h1.6M440.3 289.7v1.6M397.7 243.6h1.6M444.9 289.7v1.6M397.7 240.3h1.6M448.2 289.7v1.6M397.7 237.8h1.6M450.7 289.7v1.6M397.7 235.8h1.6M452.7 289.7v1.6M397.7 234.0h1.6M454.5 289.7v1.6M397.7 232.5h1.6M456.0 289.7v1.6M397.7 231.2h1.6M457.3 289.7v1.6M397.3 230.0h2.4M458.5 289.7v2.4M397.7 222.2h1.6M466.3 289.7v1.6M397.7 217.6h1.6M470.9 289.7v1.6M397.7 214.3h1.6M474.2 289.7v1.6M397.7 211.8h1.6M476.7 289.7v1.6M397.7 209.8h1.6M478.7 289.7v1.6M397.7 208.0h1.6M480.5 289.7v1.6M397.7 206.5h1.6M482.0 289.7v1.6M397.7 205.2h1.6M483.3 289.7v1.6M397.3 204.0h2.4M484.5 289.7v2.4M397.7 196.2h1.6M492.3 289.7v1.6M397.7 191.6h1.6M496.9 289.7v1.6M397.7 188.3h1.6M500.2 289.7v1.6M397.7 185.8h1.6M502.7 289.7v1.6M397.7 183.8h1.6M504.7 289.7v1.6M397.7 182.0h1.6M506.5 289.7v1.6M397.7 180.5h1.6M508.0 289.7v1.6M397.7 179.2h1.6M509.3 289.7v1.6M397.3 178.0h2.4M510.5 289.7v2.4" stroke="#444" stroke-width="0.8" fill="none"/>
<line x1="53.5" y1="31.3" x2="53.5" y2="296.8" stroke="#000" stroke-width="1.3" />
<line x1="52.85" y1="296.8" x2="150.8" y2="296.8" stroke="#000" stroke-width="1.3" />
<path d="M53.5 27.3 l-2.8 5.6 h5.6z" fill="#000"/>
<path d="M154.8 296.8 l-5.6 -2.8 v5.6z" fill="#000"/>
<line x1="222" y1="31.3" x2="222" y2="296.8" stroke="#000" stroke-width="1.3" />
<line x1="221.35" y1="296.8" x2="319.7" y2="296.8" stroke="#000" stroke-width="1.3" />
<path d="M222 27.3 l-2.8 5.6 h5.6z" fill="#000"/>
<path d="M323.7 296.8 l-5.6 -2.8 v5.6z" fill="#000"/>
<line x1="391" y1="31.3" x2="391" y2="296.8" stroke="#000" stroke-width="1.3" />
<line x1="390.35" y1="296.8" x2="488.9" y2="296.8" stroke="#000" stroke-width="1.3" />
<path d="M391 27.3 l-2.8 5.6 h5.6z" fill="#000"/>
<path d="M492.9 296.8 l-5.6 -2.8 v5.6z" fill="#000"/>
<text x="60" y="307.6" font-size="10.6" font-weight="normal" text-anchor="start" >CD45RO</text>
<text x="229" y="307" font-size="10.6" font-weight="normal" text-anchor="start" >CCR7</text>
<text x="398.5" y="307.2" font-size="10.6" font-weight="normal" text-anchor="start" >CCR7</text>
<text x="0" y="0" font-size="10.6" font-weight="normal" text-anchor="start" transform="translate(53.6 291) rotate(-90)">CCR7</text>
<text x="0" y="0" font-size="10.6" font-weight="normal" text-anchor="start" transform="translate(221.8 291) rotate(-90)">CD95</text>
<text x="0" y="0" font-size="10.6" font-weight="normal" text-anchor="start" transform="translate(390.8 291) rotate(-90)">CD95</text>
<path d="M61.3 67 H99.5 L107 77 V88 L97.5 94 H61.3 Z" fill="none" stroke="#222" stroke-width="1.1"/>
<path d="M107.3 100.4 V65.4 H145.6 V138.5 H61.3 V100.4 H145.6" fill="none" stroke="#222" stroke-width="1.1"/>
<text x="62.5" y="63.2" font-size="12" font-weight="bold" text-anchor="start" >Tn-like</text>
<text x="146.5" y="87.2" font-size="12" font-weight="bold" text-anchor="start" >Tcm</text>
<text x="146.8" y="138.3" font-size="12" font-weight="bold" text-anchor="start" >Tem</text>
<path d="M61.3 217.5 H103 L107 226 V240.6 L101.5 245.8 H61.3 Z" fill="none" stroke="#222" stroke-width="1.1"/>
<path d="M107 252.3 V217 H144.6 V290.3 H60.8 V252.3 H144.6" fill="none" stroke="#222" stroke-width="1.1"/>
<text x="63" y="215.4" font-size="12" font-weight="bold" text-anchor="start" >Tn-like</text>
<text x="146.8" y="238.5" font-size="12" font-weight="bold" text-anchor="start" >Tcm</text>
<text x="146.8" y="290" font-size="12" font-weight="bold" text-anchor="start" >Tem</text>
<line x1="266" y1="94" x2="305.5" y2="64.6" stroke="#000" stroke-width="1.2" />
<line x1="266" y1="246" x2="306" y2="216.3" stroke="#000" stroke-width="1.2" />
<line x1="435.4" y1="93.8" x2="474.5" y2="64.6" stroke="#000" stroke-width="1.2" />
<line x1="435.4" y1="246" x2="474.5" y2="216.3" stroke="#000" stroke-width="1.2" />
<text x="434.1" y="56.2" font-size="11.7" font-weight="bold" text-anchor="middle" >Tscm</text>
<text x="432.9" y="70.4" font-size="11.7" font-weight="bold" text-anchor="middle" >5%</text>
<text x="472" y="89" font-size="12" font-weight="bold" text-anchor="start" >Tn</text>
<text x="434.2" y="208.2" font-size="11.7" font-weight="bold" text-anchor="middle" >Tscm</text>
<text x="433.8" y="222.2" font-size="11.7" font-weight="bold" text-anchor="middle" >18%</text>
<text x="472" y="240.6" font-size="12" font-weight="bold" text-anchor="start" >Tn</text>
<text x="0.2" y="338.8" font-size="16.3" font-weight="bold" text-anchor="start" >B</text>
<line x1="61.8" y1="347" x2="61.8" y2="532.4" stroke="#000" stroke-width="1.8" />
<line x1="61" y1="531.7" x2="247.5" y2="531.7" stroke="#000" stroke-width="1.8" />
<line x1="58.3" y1="347.6" x2="62" y2="347.6" stroke="#000" stroke-width="1.2" />
<text x="57.4" y="350.0" font-size="8.3" font-weight="bold" text-anchor="end" >100</text>
<line x1="58.3" y1="384.4" x2="62" y2="384.4" stroke="#000" stroke-width="1.2" />
<text x="57.4" y="386.79999999999995" font-size="8.3" font-weight="bold" text-anchor="end" >10</text>
<line x1="58.3" y1="421.2" x2="62" y2="421.2" stroke="#000" stroke-width="1.2" />
<text x="57.4" y="423.59999999999997" font-size="8.3" font-weight="bold" text-anchor="end" >1</text>
<line x1="58.3" y1="458" x2="62" y2="458" stroke="#000" stroke-width="1.2" />
<text x="57.4" y="460.4" font-size="8.3" font-weight="bold" text-anchor="end" >0.1</text>
<line x1="58.3" y1="494.8" x2="62" y2="494.8" stroke="#000" stroke-width="1.2" />
<text x="57.4" y="497.2" font-size="8.3" font-weight="bold" text-anchor="end" >0.01</text>
<line x1="58.3" y1="531.6" x2="62" y2="531.6" stroke="#000" stroke-width="1.2" />
<text x="57.4" y="534.0" font-size="8.3" font-weight="bold" text-anchor="end" >0.001</text>
<text x="0" y="0" font-size="10.4" font-weight="bold" text-anchor="middle" transform="translate(31.9 439.5) rotate(-90)">% of CD8<tspan font-size="6.5" dy="-4">+</tspan><tspan dy="4"> T cells</tspan></text>
<text x="79.3" y="544.6" font-size="11" font-weight="bold" text-anchor="start" >T<tspan font-size="9.2" dx="0.3" dy="2.0">n</tspan></text>
<text x="119.1" y="544.6" font-size="11" font-weight="bold" text-anchor="start" >T<tspan font-size="9.2" dx="0.3" dy="2.0">scm</tspan></text>
<text x="168.1" y="544.6" font-size="11" font-weight="bold" text-anchor="start" >T<tspan font-size="9.2" dx="0.3" dy="2.0">cm</tspan></text>
<text x="215.1" y="544.6" font-size="11" font-weight="bold" text-anchor="start" >T<tspan font-size="9.2" dx="0.3" dy="2.0">em</tspan></text>
<circle cx="71" cy="358" r="2.3" fill="#fff" stroke="#000" stroke-width="1.4"/>
<circle cx="78.75" cy="361" r="2.3" fill="#fff" stroke="#000" stroke-width="1.4"/>
<circle cx="74.5" cy="365.5" r="2.3" fill="#fff" stroke="#000" stroke-width="1.4"/>
<circle cx="70.75" cy="375.5" r="2.3" fill="#fff" stroke="#000" stroke-width="1.4"/>
<circle cx="78.25" cy="380" r="2.3" fill="#fff" stroke="#000" stroke-width="1.4"/>
<circle cx="75" cy="399" r="2.3" fill="#fff" stroke="#000" stroke-width="1.4"/>
<line x1="65.5" y1="368.25" x2="83.75" y2="368.25" stroke="#000" stroke-width="1.5" />
<circle cx="94.5" cy="401.5" r="2.6" fill="#000"/>
<circle cx="94.5" cy="415" r="2.6" fill="#000"/>
<circle cx="90.75" cy="433.6" r="2.6" fill="#000"/>
<circle cx="98.4" cy="431.2" r="2.6" fill="#000"/>
<circle cx="90.75" cy="450" r="2.6" fill="#000"/>
<circle cx="98.4" cy="452.8" r="2.6" fill="#000"/>
<circle cx="94.5" cy="463.8" r="2.6" fill="#000"/>
<circle cx="94.5" cy="477.3" r="2.6" fill="#000"/>
<circle cx="94.5" cy="492.4" r="2.6" fill="#000"/>
<line x1="85" y1="427" x2="103.5" y2="427" stroke="#000" stroke-width="1.5" />
<circle cx="117" cy="415.5" r="2.3" fill="#fff" stroke="#000" stroke-width="1.4"/>
<circle cx="124.5" cy="413.5" r="2.3" fill="#fff" stroke="#000" stroke-width="1.4"/>
<circle cx="125.5" cy="417" r="2.3" fill="#fff" stroke="#000" stroke-width="1.4"/>
<circle cx="116.5" cy="423.5" r="2.3" fill="#fff" stroke="#000" stroke-width="1.4"/>
<circle cx="122" cy="423.5" r="2.3" fill="#fff" stroke="#000" stroke-width="1.4"/>
<circle cx="120.5" cy="433" r="2.3" fill="#fff" stroke="#000" stroke-width="1.4"/>
<line x1="111" y1="420" x2="129.5" y2="420" stroke="#000" stroke-width="1.5" />
<circle cx="140.5" cy="427.5" r="2.6" fill="#000"/>
<circle cx="136.7" cy="447.4" r="2.6" fill="#000"/>
<circle cx="144.4" cy="450" r="2.6" fill="#000"/>
<circle cx="140.5" cy="457.6" r="2.6" fill="#000"/>
<circle cx="136.7" cy="465.8" r="2.6" fill="#000"/>
<circle cx="144.4" cy="471.2" r="2.6" fill="#000"/>
<circle cx="140.5" cy="484.2" r="2.6" fill="#000"/>
<circle cx="140.5" cy="501.4" r="2.6" fill="#000"/>
<circle cx="140.5" cy="512.9" r="2.6" fill="#000"/>
<line x1="131.6" y1="452" x2="150" y2="452" stroke="#000" stroke-width="1.5" />
<circle cx="162.8" cy="376.8" r="2.3" fill="#fff" stroke="#000" stroke-width="1.4"/>
<circle cx="170.5" cy="380" r="2.3" fill="#fff" stroke="#000" stroke-width="1.4"/>
<circle cx="162.8" cy="382.7" r="2.3" fill="#fff" stroke="#000" stroke-width="1.4"/>
<circle cx="170.5" cy="388.5" r="2.3" fill="#fff" stroke="#000" stroke-width="1.4"/>
<circle cx="162.8" cy="393.4" r="2.3" fill="#fff" stroke="#000" stroke-width="1.4"/>
<circle cx="167" cy="386" r="2.3" fill="#fff" stroke="#000" stroke-width="1.4"/>
<line x1="157.7" y1="383.4" x2="175.6" y2="383.4" stroke="#000" stroke-width="1.5" />
<circle cx="186.6" cy="381.4" r="2.6" fill="#000"/>
<circle cx="182.7" cy="406.4" r="2.6" fill="#000"/>
<circle cx="190.4" cy="405.2" r="2.6" fill="#000"/>
<circle cx="186.6" cy="409" r="2.6" fill="#000"/>
<circle cx="182.7" cy="420.5" r="2.6" fill="#000"/>
<circle cx="186.6" cy="418.5" r="2.6" fill="#000"/>
<circle cx="190.4" cy="428.2" r="2.6" fill="#000"/>
<circle cx="182.7" cy="451.7" r="2.6" fill="#000"/>
<circle cx="190.4" cy="450.7" r="2.6" fill="#000"/>
<line x1="177.6" y1="406.4" x2="195.5" y2="406.4" stroke="#000" stroke-width="1.5" />
<circle cx="208.8" cy="350.2" r="2.3" fill="#fff" stroke="#000" stroke-width="1.4"/>
<circle cx="216.5" cy="351.5" r="2.3" fill="#fff" stroke="#000" stroke-width="1.4"/>
<circle cx="208.8" cy="356.6" r="2.3" fill="#fff" stroke="#000" stroke-width="1.4"/>
<circle cx="216.5" cy="359.6" r="2.3" fill="#fff" stroke="#000" stroke-width="1.4"/>
<circle cx="208.8" cy="361" r="2.3" fill="#fff" stroke="#000" stroke-width="1.4"/>
<circle cx="213" cy="354" r="2.3" fill="#fff" stroke="#000" stroke-width="1.4"/>
<line x1="203.7" y1="355" x2="222" y2="355" stroke="#000" stroke-width="1.5" />
<circle cx="229" cy="347.6" r="2.6" fill="#000"/>
<circle cx="232" cy="348.5" r="2.6" fill="#000"/>
<circle cx="235" cy="347.3" r="2.6" fill="#000"/>
<circle cx="238" cy="347.8" r="2.6" fill="#000"/>
<circle cx="231" cy="346.5" r="2.6" fill="#000"/>
<circle cx="233.5" cy="349.5" r="2.6" fill="#000"/>
<line x1="223.6" y1="347.4" x2="241.6" y2="347.4" stroke="#000" stroke-width="1.5" />
<line x1="74.6" y1="341.5" x2="92" y2="341.5" stroke="#000" stroke-width="1.4" />
<text x="83.3" y="339.9" font-size="9.6" font-weight="bold" text-anchor="middle" >***</text>
<line x1="211.4" y1="341.5" x2="228" y2="341.5" stroke="#000" stroke-width="1.4" />
<text x="219.7" y="339.9" font-size="9.6" font-weight="bold" text-anchor="middle" >***</text>
<text x="263" y="338.4" font-size="16.3" font-weight="bold" text-anchor="start" >C</text>
<line x1="306.2" y1="347.4" x2="306.2" y2="532.1" stroke="#000" stroke-width="1.8" />
<line x1="305.4" y1="531.3" x2="380.4" y2="531.3" stroke="#000" stroke-width="1.8" />
<line x1="302.5" y1="531.2" x2="306.2" y2="531.2" stroke="#000" stroke-width="1.2" />
<text x="301.6" y="533.8000000000001" font-size="8.3" font-weight="bold" text-anchor="end" >0</text>
<line x1="302.5" y1="485.45000000000005" x2="306.2" y2="485.45000000000005" stroke="#000" stroke-width="1.2" />
<text x="301.6" y="488.05000000000007" font-size="8.3" font-weight="bold" text-anchor="end" >25</text>
<line x1="302.5" y1="439.70000000000005" x2="306.2" y2="439.70000000000005" stroke="#000" stroke-width="1.2" />
<text x="301.6" y="442.30000000000007" font-size="8.3" font-weight="bold" text-anchor="end" >50</text>
<line x1="302.5" y1="393.95000000000005" x2="306.2" y2="393.95000000000005" stroke="#000" stroke-width="1.2" />
<text x="301.6" y="396.55000000000007" font-size="8.3" font-weight="bold" text-anchor="end" >75</text>
<line x1="302.5" y1="348.20000000000005" x2="306.2" y2="348.20000000000005" stroke="#000" stroke-width="1.2" />
<text x="301.6" y="350.80000000000007" font-size="8.3" font-weight="bold" text-anchor="end" >100</text>
<line x1="324.4" y1="531.2" x2="324.4" y2="535.3" stroke="#000" stroke-width="1.2" />
<line x1="361.4" y1="531.2" x2="361.4" y2="535.3" stroke="#000" stroke-width="1.2" />
<text x="324.6" y="544.2" font-size="9.2" font-weight="bold" text-anchor="middle" >HD</text>
<text x="362.3" y="544.2" font-size="9.2" font-weight="bold" text-anchor="middle" >Allo-SCT</text>
<text x="0" y="0" font-size="10.4" font-weight="bold" text-anchor="middle" transform="translate(280.4 439.5) rotate(-90)">Tscm of Tn-like (%)</text>
<line x1="326" y1="341.4" x2="359.9" y2="341.4" stroke="#000" stroke-width="1.4" />
<text x="342.8" y="339.9" font-size="9.6" font-weight="bold" text-anchor="middle" >*</text>
<circle cx="324.6" cy="484.3" r="2.6" fill="#000"/>
<circle cx="317" cy="522.6" r="2.6" fill="#000"/>
<circle cx="324.6" cy="520.2" r="2.6" fill="#000"/>
<circle cx="329.8" cy="523.3" r="2.6" fill="#000"/>
<circle cx="332.3" cy="526.3" r="2.6" fill="#000"/>
<circle cx="324.6" cy="530" r="2.6" fill="#000"/>
<line x1="312.3" y1="518" x2="337.5" y2="518" stroke="#000" stroke-width="1.5" />
<circle cx="361.5" cy="422.2" r="2.6" fill="#000"/>
<circle cx="369.1" cy="422.2" r="2.6" fill="#000"/>
<circle cx="361.5" cy="475" r="2.6" fill="#000"/>
<circle cx="353.8" cy="491.3" r="2.6" fill="#000"/>
<circle cx="369.1" cy="492.9" r="2.6" fill="#000"/>
<circle cx="361.5" cy="498" r="2.6" fill="#000"/>
<circle cx="361.5" cy="508" r="2.6" fill="#000"/>
<circle cx="361.5" cy="525" r="2.6" fill="#000"/>
<circle cx="369.1" cy="523.3" r="2.6" fill="#000"/>
<line x1="348.9" y1="484.3" x2="374.3" y2="484.3" stroke="#000" stroke-width="1.5" />
<text x="399.3" y="338.6" font-size="16.3" font-weight="bold" text-anchor="start" >D</text>
<line x1="442.1" y1="347.4" x2="442.1" y2="532.1" stroke="#000" stroke-width="1.8" />
<line x1="441.3" y1="531.3" x2="516.8" y2="531.3" stroke="#000" stroke-width="1.8" />
<line x1="438.4" y1="531.0" x2="442.1" y2="531.0" stroke="#000" stroke-width="1.2" />
<text x="437.5" y="533.6" font-size="8.3" font-weight="bold" text-anchor="end" >0</text>
<line x1="438.4" y1="485.3" x2="442.1" y2="485.3" stroke="#000" stroke-width="1.2" />
<text x="437.5" y="487.90000000000003" font-size="8.3" font-weight="bold" text-anchor="end" >25</text>
<line x1="438.4" y1="439.6" x2="442.1" y2="439.6" stroke="#000" stroke-width="1.2" />
<text x="437.5" y="442.20000000000005" font-size="8.3" font-weight="bold" text-anchor="end" >50</text>
<line x1="438.4" y1="393.9" x2="442.1" y2="393.9" stroke="#000" stroke-width="1.2" />
<text x="437.5" y="396.5" font-size="8.3" font-weight="bold" text-anchor="end" >75</text>
<line x1="438.4" y1="348.2" x2="442.1" y2="348.2" stroke="#000" stroke-width="1.2" />
<text x="437.5" y="350.8" font-size="8.3" font-weight="bold" text-anchor="end" >100</text>
<line x1="461.3" y1="531.2" x2="461.3" y2="535.3" stroke="#000" stroke-width="1.2" />
<line x1="497.8" y1="531.2" x2="497.8" y2="535.3" stroke="#000" stroke-width="1.2" />
<text x="461.6" y="544.2" font-size="9.2" font-weight="bold" text-anchor="middle" >HD</text>
<text x="498.6" y="544.2" font-size="9.2" font-weight="bold" text-anchor="middle" >Allo-SCT</text>
<text x="0" y="0" font-size="10.6" font-weight="bold" text-anchor="middle" transform="translate(416.6 441.3) rotate(-90)">CD95<tspan font-size="7.5" dy="-4.2">hi</tspan><tspan dy="4.2"> of Tn-like (%)</tspan></text>
<line x1="461.3" y1="341.4" x2="495.4" y2="341.4" stroke="#000" stroke-width="1.4" />
<text x="478.1" y="339.9" font-size="9.6" font-weight="bold" text-anchor="middle" >***</text>
<circle cx="461.1" cy="375.8" r="2.6" fill="#000"/>
<circle cx="468.2" cy="430.4" r="2.6" fill="#000"/>
<circle cx="461.1" cy="433.4" r="2.6" fill="#000"/>
<circle cx="453.8" cy="443.5" r="2.6" fill="#000"/>
<circle cx="462" cy="445" r="2.6" fill="#000"/>
<circle cx="461.1" cy="471.7" r="2.6" fill="#000"/>
<line x1="449.8" y1="433.4" x2="473.4" y2="433.4" stroke="#000" stroke-width="1.5" />
<circle cx="490.2" cy="354.3" r="2.6" fill="#000"/>
<circle cx="505" cy="354.3" r="2.6" fill="#000"/>
<circle cx="497.3" cy="359.2" r="2.6" fill="#000"/>
<circle cx="490.2" cy="368.1" r="2.6" fill="#000"/>
<circle cx="497.9" cy="369" r="2.6" fill="#000"/>
<circle cx="505" cy="372.1" r="2.6" fill="#000"/>
<circle cx="490.2" cy="379.2" r="2.6" fill="#000"/>
<circle cx="497.9" cy="384.4" r="2.6" fill="#000"/>
<circle cx="497.3" cy="400.6" r="2.6" fill="#000"/>
<line x1="485.6" y1="371.5" x2="510.2" y2="371.5" stroke="#000" stroke-width="1.5" />
<text x="0.2" y="579.3" font-size="16.3" font-weight="bold" text-anchor="start" >E</text>
<line x1="60.4" y1="581" x2="60.4" y2="764.8" stroke="#000" stroke-width="1.8" />
<line x1="59.6" y1="764" x2="306" y2="764" stroke="#000" stroke-width="1.8" />
<line x1="56.8" y1="581.9" x2="60.5" y2="581.9" stroke="#000" stroke-width="1.2" />
<text x="55.6" y="584.5" font-size="8.3" font-weight="bold" text-anchor="end" >100</text>
<line x1="56.8" y1="618.8" x2="60.5" y2="618.8" stroke="#000" stroke-width="1.2" />
<text x="55.6" y="621.4" font-size="8.3" font-weight="bold" text-anchor="end" >10</text>
<line x1="56.8" y1="655.7" x2="60.5" y2="655.7" stroke="#000" stroke-width="1.2" />
<text x="55.6" y="658.3000000000001" font-size="8.3" font-weight="bold" text-anchor="end" >1</text>
<line x1="56.8" y1="692.4" x2="60.5" y2="692.4" stroke="#000" stroke-width="1.2" />
<text x="55.6" y="695.0" font-size="8.3" font-weight="bold" text-anchor="end" >0.1</text>
<line x1="56.8" y1="729.2" x2="60.5" y2="729.2" stroke="#000" stroke-width="1.2" />
<text x="55.6" y="731.8000000000001" font-size="8.3" font-weight="bold" text-anchor="end" >0.01</text>
<line x1="56.8" y1="750.4" x2="60.5" y2="750.4" stroke="#000" stroke-width="1.2" />
<text x="55.6" y="753.0" font-size="8.3" font-weight="bold" text-anchor="end" >ND</text>
<line x1="60.5" y1="739" x2="306" y2="739" stroke="#000" stroke-width="1.35" stroke-dasharray="3.5 2.2"/>
<text x="0" y="0" font-size="10.4" font-weight="bold" text-anchor="middle" transform="translate(32 672.6) rotate(-90)">% of antigen-specific CD8<tspan font-size="6.5" dy="-4">+</tspan><tspan dy="4"> T cells</tspan></text>
<text x="83.9" y="777.6" font-size="11" font-weight="bold" text-anchor="start" >T<tspan font-size="9.2" dx="0.3" dy="2.0">n</tspan></text>
<text x="136.6" y="777.6" font-size="11" font-weight="bold" text-anchor="start" >T<tspan font-size="9.2" dx="0.3" dy="2.0">scm</tspan></text>
<text x="199.7" y="777.6" font-size="11" font-weight="bold" text-anchor="start" >T<tspan font-size="9.2" dx="0.3" dy="2.0">cm</tspan></text>
<text x="262.4" y="777.6" font-size="11" font-weight="bold" text-anchor="start" >T<tspan font-size="9.2" dx="0.3" dy="2.0">em</tspan></text>
<line x1="64.8" y1="688.8" x2="81.8" y2="688.8" stroke="#000" stroke-width="1.5" />
<circle cx="69.3" cy="671.8" r="2.3" fill="#fff" stroke="#000" stroke-width="1.4"/>
<circle cx="76.9" cy="678.7" r="2.3" fill="#fff" stroke="#000" stroke-width="1.4"/>
<circle cx="73.1" cy="690.3" r="2.3" fill="#fff" stroke="#000" stroke-width="1.4"/>
<circle cx="73.1" cy="709.8" r="2.3" fill="#fff" stroke="#000" stroke-width="1.4"/>
<circle cx="69.3" cy="750.4" r="2.3" fill="#fff" stroke="#000" stroke-width="1.4"/>
<circle cx="76.9" cy="750.4" r="2.3" fill="#fff" stroke="#000" stroke-width="1.4"/>
<circle cx="91.4" cy="655.7" r="2.6" fill="#666" stroke="#000" stroke-width="1.1"/>
<circle cx="87.4" cy="720.4" r="2.6" fill="#666" stroke="#000" stroke-width="1.1"/>
<circle cx="95.1" cy="723.2" r="2.6" fill="#666" stroke="#000" stroke-width="1.1"/>
<circle cx="87.4" cy="750.4" r="2.6" fill="#666" stroke="#000" stroke-width="1.1"/>
<circle cx="95.1" cy="750.4" r="2.6" fill="#666" stroke="#000" stroke-width="1.1"/>
<line x1="82.9" y1="680.6" x2="99.9" y2="680.6" stroke="#000" stroke-width="1.5" />
<circle cx="104.5" cy="750.4" r="2.5" fill="#000"/>
<circle cx="107.8" cy="750.4" r="2.5" fill="#000"/>
<circle cx="111.1" cy="750.4" r="2.5" fill="#000"/>
<circle cx="114.4" cy="750.4" r="2.5" fill="#000"/>
<line x1="100.8" y1="750.4" x2="117.8" y2="750.4" stroke="#000" stroke-width="1.5" />
<circle cx="129.9" cy="654.5" r="2.3" fill="#fff" stroke="#000" stroke-width="1.4"/>
<circle cx="137.5" cy="656.8" r="2.3" fill="#fff" stroke="#000" stroke-width="1.4"/>
<circle cx="134.1" cy="683.5" r="2.3" fill="#fff" stroke="#000" stroke-width="1.4"/>
<circle cx="134.1" cy="696.2" r="2.3" fill="#fff" stroke="#000" stroke-width="1.4"/>
<circle cx="129.9" cy="750.4" r="2.3" fill="#fff" stroke="#000" stroke-width="1.4"/>
<circle cx="137.5" cy="750.4" r="2.3" fill="#fff" stroke="#000" stroke-width="1.4"/>
<line x1="125.6" y1="670.7" x2="142.6" y2="670.7" stroke="#000" stroke-width="1.5" />
<circle cx="152" cy="655.7" r="2.6" fill="#666" stroke="#000" stroke-width="1.1"/>
<circle cx="152" cy="704.2" r="2.6" fill="#666" stroke="#000" stroke-width="1.1"/>
<circle cx="152" cy="730.3" r="2.6" fill="#666" stroke="#000" stroke-width="1.1"/>
<circle cx="147.8" cy="750.4" r="2.6" fill="#666" stroke="#000" stroke-width="1.1"/>
<circle cx="155.4" cy="750.4" r="2.6" fill="#666" stroke="#000" stroke-width="1.1"/>
<line x1="143.5" y1="680" x2="160.5" y2="680" stroke="#000" stroke-width="1.5" />
<circle cx="165.5" cy="750.4" r="2.5" fill="#000"/>
<circle cx="168.8" cy="750.4" r="2.5" fill="#000"/>
<circle cx="172.1" cy="750.4" r="2.5" fill="#000"/>
<circle cx="175.4" cy="750.4" r="2.5" fill="#000"/>
<line x1="162" y1="750.4" x2="178" y2="750.4" stroke="#000" stroke-width="1.5" />
<circle cx="190.9" cy="614.8" r="2.3" fill="#fff" stroke="#000" stroke-width="1.4"/>
<circle cx="198.6" cy="614" r="2.3" fill="#fff" stroke="#000" stroke-width="1.4"/>
<circle cx="190.9" cy="623.9" r="2.3" fill="#fff" stroke="#000" stroke-width="1.4"/>
<circle cx="198.6" cy="618.5" r="2.3" fill="#fff" stroke="#000" stroke-width="1.4"/>
<circle cx="194.6" cy="625" r="2.3" fill="#fff" stroke="#000" stroke-width="1.4"/>
<circle cx="194.6" cy="633.2" r="2.3" fill="#fff" stroke="#000" stroke-width="1.4"/>
<line x1="186.6" y1="620.5" x2="203" y2="620.5" stroke="#000" stroke-width="1.5" />
<circle cx="212.8" cy="626.7" r="2.6" fill="#666" stroke="#000" stroke-width="1.1"/>
<circle cx="212.8" cy="675.8" r="2.6" fill="#666" stroke="#000" stroke-width="1.1"/>
<circle cx="208.8" cy="682.6" r="2.6" fill="#666" stroke="#000" stroke-width="1.1"/>
<circle cx="212.2" cy="689.2" r="2.6" fill="#666" stroke="#000" stroke-width="1.1"/>
<circle cx="216.4" cy="687.7" r="2.6" fill="#666" stroke="#000" stroke-width="1.1"/>
<line x1="204.2" y1="650.8" x2="221.3" y2="650.8" stroke="#000" stroke-width="1.5" />
<circle cx="230.6" cy="621" r="2.9" fill="#000"/>
<circle cx="230.6" cy="633" r="2.9" fill="#000"/>
<circle cx="230.6" cy="750.5" r="2.9" fill="#000"/>
<line x1="223" y1="633" x2="239" y2="633" stroke="#000" stroke-width="1.5" />
<line x1="246" y1="582.7" x2="264.6" y2="582.7" stroke="#000" stroke-width="1.5" />
<circle cx="248.3" cy="584.2" r="2.6" fill="#fff" stroke="#000" stroke-width="1.4"/>
<circle cx="252" cy="583.6" r="2.6" fill="#fff" stroke="#000" stroke-width="1.4"/>
<circle cx="255.7" cy="584.2" r="2.6" fill="#fff" stroke="#000" stroke-width="1.4"/>
<circle cx="259.2" cy="584.6" r="2.6" fill="#fff" stroke="#000" stroke-width="1.4"/>
<line x1="265" y1="582.3" x2="281" y2="582.3" stroke="#000" stroke-width="1.5" />
<circle cx="269.3" cy="582.6" r="2.8" fill="#6e6e6e" stroke="#000" stroke-width="1.1"/>
<circle cx="273" cy="582.6" r="2.8" fill="#6e6e6e" stroke="#000" stroke-width="1.1"/>
<circle cx="276.6" cy="582.6" r="2.8" fill="#6e6e6e" stroke="#000" stroke-width="1.1"/>
<line x1="283" y1="583" x2="299" y2="583" stroke="#000" stroke-width="1.5" />
<circle cx="286.2" cy="583.5" r="2.8" fill="#000"/>
<circle cx="289.2" cy="582.4" r="2.8" fill="#000"/>
<circle cx="291.8" cy="583.8" r="2.8" fill="#000"/>
<circle cx="294.4" cy="582.6" r="2.8" fill="#000"/>
<circle cx="296.8" cy="583.4" r="2.8" fill="#000"/>
<line x1="191.8" y1="578.3" x2="208.7" y2="578.3" stroke="#000" stroke-width="1.3" />
<text x="199.8" y="578.7" font-size="9.6" font-weight="bold" text-anchor="middle" >***</text>
<line x1="191.8" y1="571.9" x2="227.8" y2="571.9" stroke="#000" stroke-width="1.3" />
<text x="209.8" y="572.7" font-size="9.6" font-weight="bold" text-anchor="middle" >*</text>
<line x1="252.9" y1="578" x2="268.9" y2="578" stroke="#000" stroke-width="1.3" />
<text x="260.5" y="578.4" font-size="9.6" font-weight="bold" text-anchor="middle" >***</text>
<line x1="252.9" y1="571.6" x2="289.2" y2="571.6" stroke="#000" stroke-width="1.3" />
<text x="275.7" y="572.7" font-size="9.6" font-weight="bold" text-anchor="middle" >*</text>
<circle cx="309.5" cy="586.6" r="2.4" fill="#fff" stroke="#000" stroke-width="1.7"/>
<circle cx="309.4" cy="603.1" r="2.5" fill="#666" stroke="#000" stroke-width="1.1"/>
<circle cx="309.4" cy="619.4" r="2.9" fill="#000"/>
<text x="317.2" y="590.8" font-size="12" font-weight="normal" text-anchor="start" >HD CMV</text>
<text x="317.2" y="607.5" font-size="12" font-weight="normal" text-anchor="start" >Allo-SCT CMV</text>
<text x="317.2" y="624.2" font-size="12" font-weight="normal" text-anchor="start" >Allo-SCT MiHA</text>
</svg>
</body></html>
